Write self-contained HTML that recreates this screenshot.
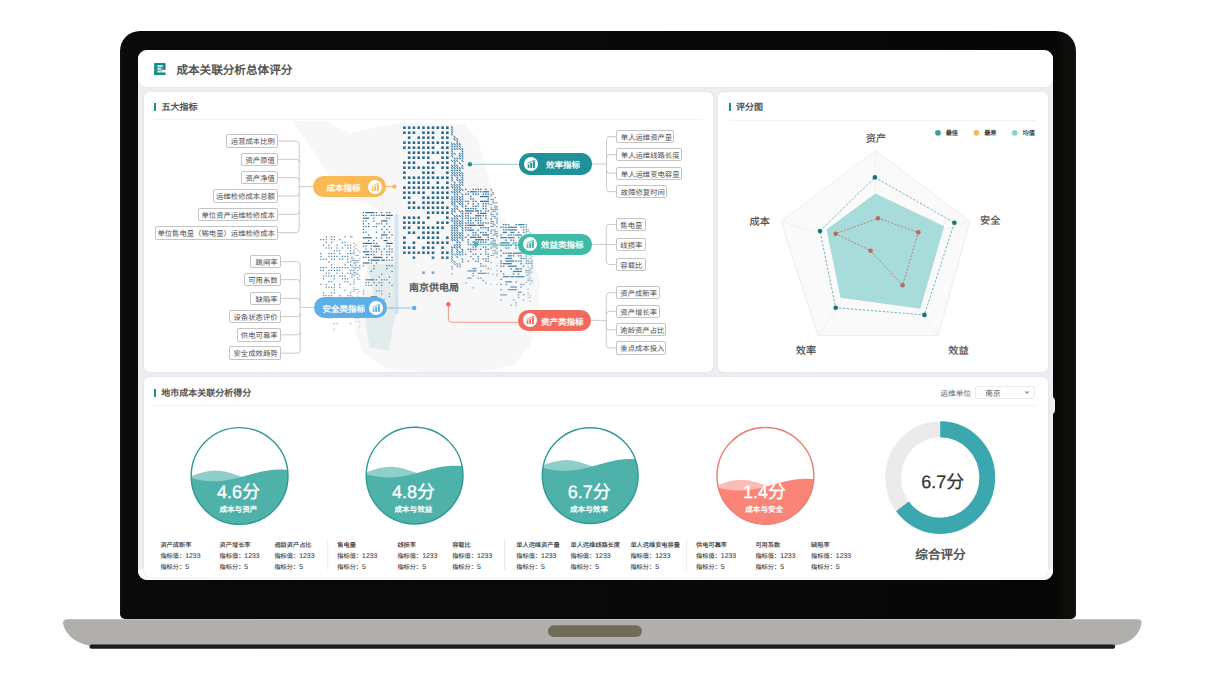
<!DOCTYPE html>
<html lang="zh-CN"><head><meta charset="utf-8"><title>成本关联分析总体评分</title>
<style>
html,body{margin:0;padding:0;}
body{width:1215px;height:674px;position:relative;overflow:hidden;background:#fff;font-family:"Liberation Sans", sans-serif;text-rendering:geometricPrecision;}
.a{position:absolute;}
.t{position:absolute;white-space:nowrap;}
.box{position:absolute;box-sizing:border-box;border:0.8px solid #c4c4c4;border-radius:2px;background:#fff;font-size:7.35px;color:#4d4d4d;white-space:nowrap;}
.bl{text-align:right;padding-right:2.0px;}
.br{text-align:left;padding-left:3.6px;}
</style></head><body>
<svg class="a" style="left:0;top:0" width="1215" height="674" viewBox="0 0 1215 674">
<defs><filter id="bb" x="-5%" y="-50%" width="110%" height="200%"><feGaussianBlur stdDeviation="0.55"/></filter></defs><path d="M67 619.3 H1137 Q1141.6 619.3 1141.6 622.5 C1140.6 633 1132 643 1115 645.5 H89 C74 643 64.5 633 63 623 Q63 619.8 67 619.3 Z" fill="#b0afab" filter="url(#bb)"/>
<rect x="89.4" y="644.6" width="1025.8" height="4.2" rx="2.1" fill="#1c1c1c"/>
<rect x="548" y="625.3" width="94" height="11.8" rx="5.9" fill="#716c58"/>
</svg>
<div class="a" style="left:120.3px;top:30.9px;width:955.5px;height:588px;background:linear-gradient(90deg,#141414 0px,#0a0a0a 2.5px,#090909 50%,#060606 calc(100% - 23px),#0d0d0b calc(100% - 13px),#0d0d0b calc(100% - 2px),#161616 100%);border-radius:20px 20px 5px 5px"></div>
<div class="a" style="left:1050px;top:396px;width:5px;height:19px;background:#f4f4f6;border-radius:0 10px 10px 0"></div>
<div class="a" style="left:138px;top:50px;width:915px;height:529.5px;background:#eceef2;border-radius:9px;overflow:hidden">
<div class="a" style="left:0;top:519px;width:915px;height:11px;background:#fdfdfd"></div>
</div>
<div class="a" style="left:138px;top:50px;width:914.5px;height:37px;background:#fff;border-radius:9px 9px 8px 8px;box-shadow:0 0 1.2px rgba(110,115,135,0.3)"></div>
<div class="a" style="left:144px;top:92px;width:569px;height:280px;background:#fff;border-radius:5px;box-shadow:0 0 1.2px rgba(110,115,135,0.35)"></div>
<div class="a" style="left:718px;top:92px;width:329.5px;height:280px;background:#fff;border-radius:5px;box-shadow:0 0 1.2px rgba(110,115,135,0.35)"></div>
<div class="a" style="left:144px;top:377px;width:903.5px;height:200px;background:#fff;border-radius:5px;box-shadow:0 0 1.2px rgba(110,115,135,0.35)"></div>
<svg class="a" style="left:154.2px;top:63px" width="12" height="12" viewBox="0 0 12 12">
<path d="M0 1 Q0 0 1 0 H10.7 Q11.6 0 11.6 1 V6.8 H7.4 V9.6 H11.6 V11.9 H1 Q0 11.9 0 10.9 Z" fill="#1d8a84"/>
<rect x="3.4" y="2.2" width="5.3" height="2.0" fill="#bff5ef"/>
<rect x="3.4" y="4.8" width="4.0" height="2.0" fill="#cde8e6"/>
<rect x="3.4" y="7.5" width="3.8" height="2.0" fill="#bff5ef"/>
<circle cx="-0.2" cy="2.5" r="0.75" fill="#fff"/><circle cx="-0.2" cy="7.1" r="0.75" fill="#fff"/>
</svg>
<div class="t" style="left:176.4px;top:63.6px;font-size:11.6px;line-height:13.92px;color:#555;font-weight:bold;">成本关联分析总体评分</div>
<div class="a" style="left:154.2px;top:103.2px;width:2.0px;height:8.0px;background:#1f8f8a;"></div>
<div class="t" style="left:161.6px;top:102.0px;font-size:9.0px;line-height:10.80px;color:#555;font-weight:bold;">五大指标</div>
<div class="a" style="left:728.6px;top:103.2px;width:2.0px;height:8.0px;background:#1f8f8a;"></div>
<div class="t" style="left:736.0px;top:102.0px;font-size:9.0px;line-height:10.80px;color:#555;font-weight:bold;">评分图</div>
<div class="a" style="left:153.8px;top:389.1px;width:2.0px;height:8.0px;background:#1f8f8a;"></div>
<div class="t" style="left:161.2px;top:387.9px;font-size:9.0px;line-height:10.80px;color:#555;font-weight:bold;">地市成本关联分析得分</div>
<div class="a" style="left:154px;top:119px;width:549px;height:1px;background:#f1f2f4;"></div>
<div class="a" style="left:728.6px;top:119.5px;width:308.4px;height:1.0px;background:#f1f2f4;"></div>
<div class="a" style="left:154px;top:405px;width:883px;height:1px;background:#f1f2f4;"></div>
<svg class="a" style="left:0;top:0" width="1215" height="674" viewBox="0 0 1215 674"><polygon points="293,121 325,121 350,133 380,126 402,123 464,124 478,140 488,175 495,205 510,230 530,250 540,280 538,320 530,345 515,365 480,372 420,372 385,368 362,352 355,330 362,300 365,270 372,250 380,235 385,215 370,205 350,200 335,185 322,165 310,145 298,130" fill="#f7f7f7"/><polygon points="367.5,265.5 396.6,262.5 398.6,304.4 392.7,327.7 388.9,351 369.4,347.2 365.5,320 373.3,292.7" fill="#e3ecec"/><rect x="403.10" y="126.40" width="2.6" height="2.6" fill="#2d6a90" opacity="1.00"/><rect x="407.87" y="126.40" width="2.6" height="2.6" fill="#2d6a90" opacity="1.00"/><rect x="412.64" y="126.40" width="2.6" height="2.6" fill="#2d6a90" opacity="1.00"/><rect x="417.41" y="126.40" width="2.6" height="2.6" fill="#2d6a90" opacity="1.00"/><rect x="422.18" y="126.40" width="2.6" height="2.6" fill="#2d6a90" opacity="1.00"/><rect x="426.95" y="126.40" width="2.6" height="2.6" fill="#2d6a90" opacity="1.00"/><rect x="431.72" y="126.40" width="2.6" height="2.6" fill="#2d6a90" opacity="1.00"/><rect x="436.49" y="126.40" width="2.6" height="2.6" fill="#2d6a90" opacity="1.00"/><rect x="441.26" y="126.40" width="2.6" height="2.6" fill="#2d6a90" opacity="1.00"/><rect x="446.03" y="126.40" width="2.6" height="2.6" fill="#2d6a90" opacity="1.00"/><rect x="403.10" y="131.40" width="2.6" height="2.6" fill="#2d6a90" opacity="1.00"/><rect x="407.87" y="131.40" width="2.6" height="2.6" fill="#2d6a90" opacity="1.00"/><rect x="412.64" y="131.40" width="2.6" height="2.6" fill="#2d6a90" opacity="1.00"/><rect x="422.18" y="131.40" width="2.6" height="2.6" fill="#2d6a90" opacity="1.00"/><rect x="426.95" y="131.40" width="2.6" height="2.6" fill="#2d6a90" opacity="1.00"/><rect x="431.72" y="131.40" width="2.6" height="2.6" fill="#2d6a90" opacity="1.00"/><rect x="441.26" y="131.40" width="2.6" height="2.6" fill="#2d6a90" opacity="1.00"/><rect x="446.03" y="131.40" width="2.6" height="2.6" fill="#2d6a90" opacity="1.00"/><rect x="407.87" y="136.40" width="2.6" height="2.6" fill="#2d6a90" opacity="1.00"/><rect x="417.41" y="136.40" width="2.6" height="2.6" fill="#2d6a90" opacity="1.00"/><rect x="422.18" y="136.40" width="2.6" height="2.6" fill="#2d6a90" opacity="1.00"/><rect x="426.95" y="136.40" width="2.6" height="2.6" fill="#2d6a90" opacity="1.00"/><rect x="431.72" y="136.40" width="2.6" height="2.6" fill="#2d6a90" opacity="1.00"/><rect x="441.26" y="136.40" width="2.6" height="2.6" fill="#2d6a90" opacity="1.00"/><rect x="446.03" y="136.40" width="2.6" height="2.6" fill="#2d6a90" opacity="1.00"/><rect x="403.10" y="141.40" width="2.6" height="2.6" fill="#2d6a90" opacity="1.00"/><rect x="407.87" y="141.40" width="2.6" height="2.6" fill="#2d6a90" opacity="1.00"/><rect x="412.64" y="141.40" width="2.6" height="2.6" fill="#2d6a90" opacity="1.00"/><rect x="417.41" y="141.40" width="2.6" height="2.6" fill="#2d6a90" opacity="1.00"/><rect x="422.18" y="141.40" width="2.6" height="2.6" fill="#2d6a90" opacity="1.00"/><rect x="426.95" y="141.40" width="2.6" height="2.6" fill="#2d6a90" opacity="1.00"/><rect x="431.72" y="141.40" width="2.6" height="2.6" fill="#2d6a90" opacity="1.00"/><rect x="436.49" y="141.40" width="2.6" height="2.6" fill="#2d6a90" opacity="1.00"/><rect x="441.26" y="141.40" width="2.6" height="2.6" fill="#2d6a90" opacity="1.00"/><rect x="446.03" y="141.40" width="2.6" height="2.6" fill="#2d6a90" opacity="1.00"/><rect x="403.10" y="146.40" width="2.6" height="2.6" fill="#2d6a90" opacity="1.00"/><rect x="407.87" y="146.40" width="2.6" height="2.6" fill="#2d6a90" opacity="1.00"/><rect x="412.64" y="146.40" width="2.6" height="2.6" fill="#2d6a90" opacity="1.00"/><rect x="417.41" y="146.40" width="2.6" height="2.6" fill="#2d6a90" opacity="1.00"/><rect x="422.18" y="146.40" width="2.6" height="2.6" fill="#2d6a90" opacity="1.00"/><rect x="426.95" y="146.40" width="2.6" height="2.6" fill="#2d6a90" opacity="1.00"/><rect x="431.72" y="146.40" width="2.6" height="2.6" fill="#2d6a90" opacity="1.00"/><rect x="441.26" y="146.40" width="2.6" height="2.6" fill="#2d6a90" opacity="1.00"/><rect x="446.03" y="146.40" width="2.6" height="2.6" fill="#2d6a90" opacity="1.00"/><rect x="407.87" y="151.40" width="2.6" height="2.6" fill="#2d6a90" opacity="1.00"/><rect x="412.64" y="151.40" width="2.6" height="2.6" fill="#2d6a90" opacity="1.00"/><rect x="417.41" y="151.40" width="2.6" height="2.6" fill="#2d6a90" opacity="1.00"/><rect x="422.18" y="151.40" width="2.6" height="2.6" fill="#2d6a90" opacity="1.00"/><rect x="426.95" y="151.40" width="2.6" height="2.6" fill="#2d6a90" opacity="1.00"/><rect x="431.72" y="151.40" width="2.6" height="2.6" fill="#2d6a90" opacity="1.00"/><rect x="436.49" y="151.40" width="2.6" height="2.6" fill="#2d6a90" opacity="1.00"/><rect x="441.26" y="151.40" width="2.6" height="2.6" fill="#2d6a90" opacity="1.00"/><rect x="446.03" y="151.40" width="2.6" height="2.6" fill="#2d6a90" opacity="1.00"/><rect x="407.87" y="156.40" width="2.6" height="2.6" fill="#2d6a90" opacity="1.00"/><rect x="412.64" y="156.40" width="2.6" height="2.6" fill="#2d6a90" opacity="1.00"/><rect x="417.41" y="156.40" width="2.6" height="2.6" fill="#2d6a90" opacity="1.00"/><rect x="422.18" y="156.40" width="2.6" height="2.6" fill="#2d6a90" opacity="1.00"/><rect x="426.95" y="156.40" width="2.6" height="2.6" fill="#2d6a90" opacity="1.00"/><rect x="441.26" y="156.40" width="2.6" height="2.6" fill="#2d6a90" opacity="1.00"/><rect x="446.03" y="156.40" width="2.6" height="2.6" fill="#2d6a90" opacity="1.00"/><rect x="403.10" y="161.40" width="2.6" height="2.6" fill="#2d6a90" opacity="1.00"/><rect x="407.87" y="161.40" width="2.6" height="2.6" fill="#2d6a90" opacity="1.00"/><rect x="412.64" y="161.40" width="2.6" height="2.6" fill="#2d6a90" opacity="1.00"/><rect x="426.95" y="161.40" width="2.6" height="2.6" fill="#2d6a90" opacity="1.00"/><rect x="431.72" y="161.40" width="2.6" height="2.6" fill="#2d6a90" opacity="1.00"/><rect x="436.49" y="161.40" width="2.6" height="2.6" fill="#2d6a90" opacity="1.00"/><rect x="441.26" y="161.40" width="2.6" height="2.6" fill="#2d6a90" opacity="1.00"/><rect x="446.03" y="161.40" width="2.6" height="2.6" fill="#2d6a90" opacity="1.00"/><rect x="403.10" y="166.40" width="2.6" height="2.6" fill="#2d6a90" opacity="1.00"/><rect x="407.87" y="166.40" width="2.6" height="2.6" fill="#2d6a90" opacity="1.00"/><rect x="412.64" y="166.40" width="2.6" height="2.6" fill="#2d6a90" opacity="1.00"/><rect x="417.41" y="166.40" width="2.6" height="2.6" fill="#2d6a90" opacity="1.00"/><rect x="422.18" y="166.40" width="2.6" height="2.6" fill="#2d6a90" opacity="1.00"/><rect x="426.95" y="166.40" width="2.6" height="2.6" fill="#2d6a90" opacity="1.00"/><rect x="431.72" y="166.40" width="2.6" height="2.6" fill="#2d6a90" opacity="1.00"/><rect x="441.26" y="166.40" width="2.6" height="2.6" fill="#2d6a90" opacity="1.00"/><rect x="446.03" y="166.40" width="2.6" height="2.6" fill="#2d6a90" opacity="1.00"/><rect x="403.10" y="171.40" width="2.6" height="2.6" fill="#2d6a90" opacity="1.00"/><rect x="422.18" y="171.40" width="2.6" height="2.6" fill="#2d6a90" opacity="1.00"/><rect x="426.95" y="171.40" width="2.6" height="2.6" fill="#2d6a90" opacity="1.00"/><rect x="431.72" y="171.40" width="2.6" height="2.6" fill="#2d6a90" opacity="1.00"/><rect x="446.03" y="171.40" width="2.6" height="2.6" fill="#2d6a90" opacity="1.00"/><rect x="403.10" y="176.40" width="2.6" height="2.6" fill="#2d6a90" opacity="1.00"/><rect x="407.87" y="176.40" width="2.6" height="2.6" fill="#2d6a90" opacity="1.00"/><rect x="412.64" y="176.40" width="2.6" height="2.6" fill="#2d6a90" opacity="1.00"/><rect x="417.41" y="176.40" width="2.6" height="2.6" fill="#2d6a90" opacity="1.00"/><rect x="422.18" y="176.40" width="2.6" height="2.6" fill="#2d6a90" opacity="1.00"/><rect x="426.95" y="176.40" width="2.6" height="2.6" fill="#2d6a90" opacity="1.00"/><rect x="431.72" y="176.40" width="2.6" height="2.6" fill="#2d6a90" opacity="1.00"/><rect x="436.49" y="176.40" width="2.6" height="2.6" fill="#2d6a90" opacity="1.00"/><rect x="441.26" y="176.40" width="2.6" height="2.6" fill="#2d6a90" opacity="1.00"/><rect x="446.03" y="176.40" width="2.6" height="2.6" fill="#2d6a90" opacity="1.00"/><rect x="407.87" y="181.40" width="2.6" height="2.6" fill="#2d6a90" opacity="1.00"/><rect x="412.64" y="181.40" width="2.6" height="2.6" fill="#2d6a90" opacity="1.00"/><rect x="417.41" y="181.40" width="2.6" height="2.6" fill="#2d6a90" opacity="1.00"/><rect x="422.18" y="181.40" width="2.6" height="2.6" fill="#2d6a90" opacity="1.00"/><rect x="426.95" y="181.40" width="2.6" height="2.6" fill="#2d6a90" opacity="1.00"/><rect x="436.49" y="181.40" width="2.6" height="2.6" fill="#2d6a90" opacity="1.00"/><rect x="446.03" y="181.40" width="2.6" height="2.6" fill="#2d6a90" opacity="1.00"/><rect x="403.10" y="186.40" width="2.6" height="2.6" fill="#2d6a90" opacity="1.00"/><rect x="407.87" y="186.40" width="2.6" height="2.6" fill="#2d6a90" opacity="1.00"/><rect x="412.64" y="186.40" width="2.6" height="2.6" fill="#2d6a90" opacity="1.00"/><rect x="417.41" y="186.40" width="2.6" height="2.6" fill="#2d6a90" opacity="1.00"/><rect x="422.18" y="186.40" width="2.6" height="2.6" fill="#2d6a90" opacity="1.00"/><rect x="426.95" y="186.40" width="2.6" height="2.6" fill="#2d6a90" opacity="1.00"/><rect x="431.72" y="186.40" width="2.6" height="2.6" fill="#2d6a90" opacity="1.00"/><rect x="436.49" y="186.40" width="2.6" height="2.6" fill="#2d6a90" opacity="1.00"/><rect x="441.26" y="186.40" width="2.6" height="2.6" fill="#2d6a90" opacity="1.00"/><rect x="446.03" y="186.40" width="2.6" height="2.6" fill="#2d6a90" opacity="1.00"/><rect x="403.10" y="191.40" width="2.6" height="2.6" fill="#2d6a90" opacity="1.00"/><rect x="407.87" y="191.40" width="2.6" height="2.6" fill="#2d6a90" opacity="1.00"/><rect x="412.64" y="191.40" width="2.6" height="2.6" fill="#2d6a90" opacity="1.00"/><rect x="417.41" y="191.40" width="2.6" height="2.6" fill="#2d6a90" opacity="1.00"/><rect x="422.18" y="191.40" width="2.6" height="2.6" fill="#2d6a90" opacity="1.00"/><rect x="431.72" y="191.40" width="2.6" height="2.6" fill="#2d6a90" opacity="1.00"/><rect x="436.49" y="191.40" width="2.6" height="2.6" fill="#2d6a90" opacity="1.00"/><rect x="441.26" y="191.40" width="2.6" height="2.6" fill="#2d6a90" opacity="1.00"/><rect x="446.03" y="191.40" width="2.6" height="2.6" fill="#2d6a90" opacity="1.00"/><rect x="403.10" y="196.40" width="2.6" height="2.6" fill="#2d6a90" opacity="1.00"/><rect x="407.87" y="196.40" width="2.6" height="2.6" fill="#2d6a90" opacity="1.00"/><rect x="422.18" y="196.40" width="2.6" height="2.6" fill="#2d6a90" opacity="1.00"/><rect x="426.95" y="196.40" width="2.6" height="2.6" fill="#2d6a90" opacity="1.00"/><rect x="431.72" y="196.40" width="2.6" height="2.6" fill="#2d6a90" opacity="1.00"/><rect x="436.49" y="196.40" width="2.6" height="2.6" fill="#2d6a90" opacity="1.00"/><rect x="441.26" y="196.40" width="2.6" height="2.6" fill="#2d6a90" opacity="1.00"/><rect x="446.03" y="196.40" width="2.6" height="2.6" fill="#2d6a90" opacity="1.00"/><rect x="407.87" y="201.40" width="2.6" height="2.6" fill="#2d6a90" opacity="1.00"/><rect x="412.64" y="201.40" width="2.6" height="2.6" fill="#2d6a90" opacity="1.00"/><rect x="422.18" y="201.40" width="2.6" height="2.6" fill="#2d6a90" opacity="1.00"/><rect x="426.95" y="201.40" width="2.6" height="2.6" fill="#2d6a90" opacity="1.00"/><rect x="431.72" y="201.40" width="2.6" height="2.6" fill="#2d6a90" opacity="1.00"/><rect x="436.49" y="201.40" width="2.6" height="2.6" fill="#2d6a90" opacity="1.00"/><rect x="441.26" y="201.40" width="2.6" height="2.6" fill="#2d6a90" opacity="1.00"/><rect x="407.87" y="206.40" width="2.6" height="2.6" fill="#2d6a90" opacity="1.00"/><rect x="412.64" y="206.40" width="2.6" height="2.6" fill="#2d6a90" opacity="1.00"/><rect x="417.41" y="206.40" width="2.6" height="2.6" fill="#2d6a90" opacity="1.00"/><rect x="422.18" y="206.40" width="2.6" height="2.6" fill="#2d6a90" opacity="1.00"/><rect x="426.95" y="206.40" width="2.6" height="2.6" fill="#2d6a90" opacity="1.00"/><rect x="431.72" y="206.40" width="2.6" height="2.6" fill="#2d6a90" opacity="1.00"/><rect x="436.49" y="206.40" width="2.6" height="2.6" fill="#2d6a90" opacity="1.00"/><rect x="441.26" y="206.40" width="2.6" height="2.6" fill="#2d6a90" opacity="1.00"/><rect x="446.03" y="206.40" width="2.6" height="2.6" fill="#2d6a90" opacity="1.00"/><rect x="426.95" y="211.40" width="2.6" height="2.6" fill="#2d6a90" opacity="1.00"/><rect x="431.72" y="211.40" width="2.6" height="2.6" fill="#2d6a90" opacity="1.00"/><rect x="436.49" y="211.40" width="2.6" height="2.6" fill="#2d6a90" opacity="1.00"/><rect x="441.26" y="211.40" width="2.6" height="2.6" fill="#2d6a90" opacity="1.00"/><rect x="446.03" y="211.40" width="2.6" height="2.6" fill="#2d6a90" opacity="1.00"/><rect x="403.10" y="216.40" width="2.6" height="2.6" fill="#2d6a90" opacity="1.00"/><rect x="407.87" y="216.40" width="2.6" height="2.6" fill="#2d6a90" opacity="1.00"/><rect x="412.64" y="216.40" width="2.6" height="2.6" fill="#2d6a90" opacity="1.00"/><rect x="417.41" y="216.40" width="2.6" height="2.6" fill="#2d6a90" opacity="1.00"/><rect x="426.95" y="216.40" width="2.6" height="2.6" fill="#2d6a90" opacity="1.00"/><rect x="446.03" y="216.40" width="2.6" height="2.6" fill="#2d6a90" opacity="1.00"/><rect x="403.10" y="221.40" width="2.6" height="2.6" fill="#2d6a90" opacity="1.00"/><rect x="407.87" y="221.40" width="2.6" height="2.6" fill="#2d6a90" opacity="1.00"/><rect x="412.64" y="221.40" width="2.6" height="2.6" fill="#2d6a90" opacity="1.00"/><rect x="417.41" y="221.40" width="2.6" height="2.6" fill="#2d6a90" opacity="1.00"/><rect x="422.18" y="221.40" width="2.6" height="2.6" fill="#2d6a90" opacity="1.00"/><rect x="436.49" y="221.40" width="2.6" height="2.6" fill="#2d6a90" opacity="1.00"/><rect x="441.26" y="221.40" width="2.6" height="2.6" fill="#2d6a90" opacity="1.00"/><rect x="446.03" y="221.40" width="2.6" height="2.6" fill="#2d6a90" opacity="1.00"/><rect x="403.10" y="226.40" width="2.6" height="2.6" fill="#2d6a90" opacity="1.00"/><rect x="407.87" y="226.40" width="2.6" height="2.6" fill="#2d6a90" opacity="1.00"/><rect x="417.41" y="226.40" width="2.6" height="2.6" fill="#2d6a90" opacity="1.00"/><rect x="422.18" y="226.40" width="2.6" height="2.6" fill="#2d6a90" opacity="1.00"/><rect x="426.95" y="226.40" width="2.6" height="2.6" fill="#2d6a90" opacity="1.00"/><rect x="431.72" y="226.40" width="2.6" height="2.6" fill="#2d6a90" opacity="1.00"/><rect x="436.49" y="226.40" width="2.6" height="2.6" fill="#2d6a90" opacity="1.00"/><rect x="441.26" y="226.40" width="2.6" height="2.6" fill="#2d6a90" opacity="1.00"/><rect x="407.87" y="231.40" width="2.6" height="2.6" fill="#2d6a90" opacity="1.00"/><rect x="412.64" y="231.40" width="2.6" height="2.6" fill="#2d6a90" opacity="1.00"/><rect x="422.18" y="231.40" width="2.6" height="2.6" fill="#2d6a90" opacity="1.00"/><rect x="426.95" y="231.40" width="2.6" height="2.6" fill="#2d6a90" opacity="1.00"/><rect x="431.72" y="231.40" width="2.6" height="2.6" fill="#2d6a90" opacity="1.00"/><rect x="436.49" y="231.40" width="2.6" height="2.6" fill="#2d6a90" opacity="1.00"/><rect x="403.10" y="236.40" width="2.6" height="2.6" fill="#2d6a90" opacity="1.00"/><rect x="417.41" y="236.40" width="2.6" height="2.6" fill="#2d6a90" opacity="1.00"/><rect x="422.18" y="236.40" width="2.6" height="2.6" fill="#2d6a90" opacity="1.00"/><rect x="426.95" y="236.40" width="2.6" height="2.6" fill="#2d6a90" opacity="1.00"/><rect x="431.72" y="236.40" width="2.6" height="2.6" fill="#2d6a90" opacity="1.00"/><rect x="436.49" y="236.40" width="2.6" height="2.6" fill="#2d6a90" opacity="1.00"/><rect x="446.03" y="236.40" width="2.6" height="2.6" fill="#2d6a90" opacity="1.00"/><rect x="403.10" y="241.40" width="2.6" height="2.6" fill="#2d6a90" opacity="1.00"/><rect x="412.64" y="241.40" width="2.6" height="2.6" fill="#2d6a90" opacity="1.00"/><rect x="426.95" y="241.40" width="2.6" height="2.6" fill="#2d6a90" opacity="1.00"/><rect x="431.72" y="241.40" width="2.6" height="2.6" fill="#2d6a90" opacity="1.00"/><rect x="436.49" y="241.40" width="2.6" height="2.6" fill="#2d6a90" opacity="1.00"/><rect x="441.26" y="241.40" width="2.6" height="2.6" fill="#2d6a90" opacity="1.00"/><rect x="446.03" y="241.40" width="2.6" height="2.6" fill="#2d6a90" opacity="1.00"/><rect x="403.10" y="246.40" width="2.6" height="2.6" fill="#2d6a90" opacity="1.00"/><rect x="407.87" y="246.40" width="2.6" height="2.6" fill="#2d6a90" opacity="1.00"/><rect x="412.64" y="246.40" width="2.6" height="2.6" fill="#2d6a90" opacity="1.00"/><rect x="422.18" y="246.40" width="2.6" height="2.6" fill="#2d6a90" opacity="1.00"/><rect x="426.95" y="246.40" width="2.6" height="2.6" fill="#2d6a90" opacity="1.00"/><rect x="431.72" y="246.40" width="2.6" height="2.6" fill="#2d6a90" opacity="1.00"/><rect x="441.26" y="246.40" width="2.6" height="2.6" fill="#2d6a90" opacity="1.00"/><rect x="403.10" y="251.40" width="2.6" height="2.6" fill="#2d6a90" opacity="0.97"/><rect x="407.87" y="251.40" width="2.6" height="2.6" fill="#2d6a90" opacity="0.97"/><rect x="412.64" y="251.40" width="2.6" height="2.6" fill="#2d6a90" opacity="0.97"/><rect x="417.41" y="251.40" width="2.6" height="2.6" fill="#2d6a90" opacity="0.97"/><rect x="422.18" y="251.40" width="2.6" height="2.6" fill="#2d6a90" opacity="0.97"/><rect x="426.95" y="251.40" width="2.6" height="2.6" fill="#2d6a90" opacity="0.97"/><rect x="431.72" y="251.40" width="2.6" height="2.6" fill="#2d6a90" opacity="0.97"/><rect x="441.26" y="251.40" width="2.6" height="2.6" fill="#2d6a90" opacity="0.97"/><rect x="446.03" y="251.40" width="2.6" height="2.6" fill="#2d6a90" opacity="0.97"/><rect x="412.64" y="256.40" width="2.6" height="2.6" fill="#2d6a90" opacity="0.88"/><rect x="431.72" y="256.40" width="2.6" height="2.6" fill="#2d6a90" opacity="0.88"/><rect x="441.26" y="256.40" width="2.6" height="2.6" fill="#2d6a90" opacity="0.88"/><rect x="446.03" y="256.40" width="2.6" height="2.6" fill="#2d6a90" opacity="0.88"/><rect x="422.18" y="271.40" width="2.6" height="2.6" fill="#2d6a90" opacity="0.59"/><rect x="431.72" y="271.40" width="2.6" height="2.6" fill="#2d6a90" opacity="0.59"/><path d="M451.20 126.40 l1.70 1.87" stroke="#3574a0" stroke-width="1.1" opacity="0.95"/><path d="M451.20 128.80 l1.70 1.87" stroke="#3574a0" stroke-width="1.1" opacity="0.95"/><path d="M451.20 131.20 l1.70 1.87" stroke="#3574a0" stroke-width="1.1" opacity="0.95"/><path d="M451.20 133.60 l1.70 1.87" stroke="#3574a0" stroke-width="1.1" opacity="0.95"/><path d="M453.80 136.00 l1.70 1.87" stroke="#3574a0" stroke-width="1.1" opacity="0.95"/><path d="M453.80 138.40 l1.70 1.87" stroke="#3574a0" stroke-width="1.1" opacity="0.95"/><path d="M456.40 138.40 l1.70 1.87" stroke="#3574a0" stroke-width="1.1" opacity="0.95"/><path d="M456.40 140.80 l1.70 1.87" stroke="#3574a0" stroke-width="1.1" opacity="0.95"/><path d="M451.20 143.20 l1.70 1.87" stroke="#3574a0" stroke-width="1.1" opacity="0.95"/><path d="M453.80 143.20 l1.70 1.87" stroke="#3574a0" stroke-width="1.1" opacity="0.95"/><path d="M456.40 143.20 l1.70 1.87" stroke="#3574a0" stroke-width="1.1" opacity="0.95"/><path d="M459.00 143.20 l1.70 1.87" stroke="#3574a0" stroke-width="1.1" opacity="0.95"/><path d="M451.20 145.60 l1.70 1.87" stroke="#3574a0" stroke-width="1.1" opacity="0.95"/><path d="M453.80 145.60 l1.70 1.87" stroke="#3574a0" stroke-width="1.1" opacity="0.95"/><path d="M456.40 145.60 l1.70 1.87" stroke="#3574a0" stroke-width="1.1" opacity="0.95"/><path d="M459.00 145.60 l1.70 1.87" stroke="#3574a0" stroke-width="1.1" opacity="0.95"/><path d="M451.20 148.00 l1.70 1.87" stroke="#3574a0" stroke-width="1.1" opacity="0.95"/><path d="M453.80 148.00 l1.70 1.87" stroke="#3574a0" stroke-width="1.1" opacity="0.95"/><path d="M456.40 148.00 l1.70 1.87" stroke="#3574a0" stroke-width="1.1" opacity="0.95"/><path d="M459.00 148.00 l1.70 1.87" stroke="#3574a0" stroke-width="1.1" opacity="0.95"/><path d="M461.60 148.00 l1.70 1.87" stroke="#3574a0" stroke-width="1.1" opacity="0.95"/><path d="M451.20 150.40 l1.70 1.87" stroke="#3574a0" stroke-width="1.1" opacity="0.95"/><path d="M461.60 150.40 l1.70 1.87" stroke="#3574a0" stroke-width="1.1" opacity="0.95"/><path d="M451.20 152.80 l1.70 1.87" stroke="#3574a0" stroke-width="1.1" opacity="0.95"/><path d="M453.80 152.80 l1.70 1.87" stroke="#3574a0" stroke-width="1.1" opacity="0.95"/><path d="M459.00 152.80 l1.70 1.87" stroke="#3574a0" stroke-width="1.1" opacity="0.95"/><path d="M461.60 152.80 l1.70 1.87" stroke="#3574a0" stroke-width="1.1" opacity="0.95"/><path d="M451.20 155.20 l1.70 1.87" stroke="#3574a0" stroke-width="1.1" opacity="0.95"/><path d="M459.00 155.20 l1.70 1.87" stroke="#3574a0" stroke-width="1.1" opacity="0.95"/><path d="M461.60 155.20 l1.70 1.87" stroke="#3574a0" stroke-width="1.1" opacity="0.95"/><path d="M453.80 157.60 l1.70 1.87" stroke="#3574a0" stroke-width="1.1" opacity="0.95"/><path d="M456.40 157.60 l1.70 1.87" stroke="#3574a0" stroke-width="1.1" opacity="0.95"/><path d="M459.00 157.60 l1.70 1.87" stroke="#3574a0" stroke-width="1.1" opacity="0.95"/><path d="M461.60 157.60 l1.70 1.87" stroke="#3574a0" stroke-width="1.1" opacity="0.95"/><path d="M451.20 160.00 l1.70 1.87" stroke="#3574a0" stroke-width="1.1" opacity="0.95"/><path d="M453.80 160.00 l1.70 1.87" stroke="#3574a0" stroke-width="1.1" opacity="0.95"/><path d="M456.40 160.00 l1.70 1.87" stroke="#3574a0" stroke-width="1.1" opacity="0.95"/><path d="M461.60 160.00 l1.70 1.87" stroke="#3574a0" stroke-width="1.1" opacity="0.95"/><path d="M453.80 162.40 l1.70 1.87" stroke="#3574a0" stroke-width="1.1" opacity="0.95"/><path d="M459.00 162.40 l1.70 1.87" stroke="#3574a0" stroke-width="1.1" opacity="0.95"/><path d="M451.20 164.80 l1.70 1.87" stroke="#3574a0" stroke-width="1.1" opacity="0.95"/><path d="M453.80 164.80 l1.70 1.87" stroke="#3574a0" stroke-width="1.1" opacity="0.95"/><path d="M456.40 164.80 l1.70 1.87" stroke="#3574a0" stroke-width="1.1" opacity="0.95"/><path d="M461.60 164.80 l1.70 1.87" stroke="#3574a0" stroke-width="1.1" opacity="0.95"/><path d="M451.20 167.20 l1.70 1.87" stroke="#3574a0" stroke-width="1.1" opacity="0.95"/><path d="M453.80 167.20 l1.70 1.87" stroke="#3574a0" stroke-width="1.1" opacity="0.95"/><path d="M456.40 167.20 l1.70 1.87" stroke="#3574a0" stroke-width="1.1" opacity="0.95"/><path d="M459.00 167.20 l1.70 1.87" stroke="#3574a0" stroke-width="1.1" opacity="0.95"/><path d="M461.60 167.20 l1.70 1.87" stroke="#3574a0" stroke-width="1.1" opacity="0.95"/><path d="M451.20 169.60 l1.70 1.87" stroke="#3574a0" stroke-width="1.1" opacity="0.95"/><path d="M453.80 169.60 l1.70 1.87" stroke="#3574a0" stroke-width="1.1" opacity="0.95"/><path d="M456.40 169.60 l1.70 1.87" stroke="#3574a0" stroke-width="1.1" opacity="0.95"/><path d="M459.00 169.60 l1.70 1.87" stroke="#3574a0" stroke-width="1.1" opacity="0.95"/><path d="M451.20 172.00 l1.70 1.87" stroke="#3574a0" stroke-width="1.1" opacity="0.95"/><path d="M453.80 172.00 l1.70 1.87" stroke="#3574a0" stroke-width="1.1" opacity="0.95"/><path d="M456.40 172.00 l1.70 1.87" stroke="#3574a0" stroke-width="1.1" opacity="0.95"/><path d="M459.00 172.00 l1.70 1.87" stroke="#3574a0" stroke-width="1.1" opacity="0.95"/><path d="M461.60 172.00 l1.70 1.87" stroke="#3574a0" stroke-width="1.1" opacity="0.95"/><path d="M451.20 174.40 l1.70 1.87" stroke="#3574a0" stroke-width="1.1" opacity="0.95"/><path d="M453.80 174.40 l1.70 1.87" stroke="#3574a0" stroke-width="1.1" opacity="0.95"/><path d="M456.40 174.40 l1.70 1.87" stroke="#3574a0" stroke-width="1.1" opacity="0.95"/><path d="M459.00 174.40 l1.70 1.87" stroke="#3574a0" stroke-width="1.1" opacity="0.95"/><path d="M461.60 174.40 l1.70 1.87" stroke="#3574a0" stroke-width="1.1" opacity="0.95"/><path d="M451.20 176.80 l1.70 1.87" stroke="#3574a0" stroke-width="1.1" opacity="0.95"/><path d="M456.40 176.80 l1.70 1.87" stroke="#3574a0" stroke-width="1.1" opacity="0.95"/><path d="M461.60 176.80 l1.70 1.87" stroke="#3574a0" stroke-width="1.1" opacity="0.95"/><path d="M451.20 179.20 l1.70 1.87" stroke="#3574a0" stroke-width="1.1" opacity="0.95"/><path d="M456.40 179.20 l1.70 1.87" stroke="#3574a0" stroke-width="1.1" opacity="0.95"/><path d="M459.00 179.20 l1.70 1.87" stroke="#3574a0" stroke-width="1.1" opacity="0.95"/><path d="M461.60 179.20 l1.70 1.87" stroke="#3574a0" stroke-width="1.1" opacity="0.95"/><path d="M453.80 181.60 l1.70 1.87" stroke="#3574a0" stroke-width="1.1" opacity="0.95"/><path d="M459.00 181.60 l1.70 1.87" stroke="#3574a0" stroke-width="1.1" opacity="0.95"/><path d="M461.60 181.60 l1.70 1.87" stroke="#3574a0" stroke-width="1.1" opacity="0.95"/><path d="M451.20 184.00 l1.70 1.87" stroke="#3574a0" stroke-width="1.1" opacity="0.95"/><path d="M453.80 184.00 l1.70 1.87" stroke="#3574a0" stroke-width="1.1" opacity="0.95"/><path d="M456.40 184.00 l1.70 1.87" stroke="#3574a0" stroke-width="1.1" opacity="0.95"/><path d="M459.00 184.00 l1.70 1.87" stroke="#3574a0" stroke-width="1.1" opacity="0.95"/><path d="M461.60 184.00 l1.70 1.87" stroke="#3574a0" stroke-width="1.1" opacity="0.95"/><path d="M451.20 186.40 l1.70 1.87" stroke="#3574a0" stroke-width="1.1" opacity="0.95"/><path d="M453.80 186.40 l1.70 1.87" stroke="#3574a0" stroke-width="1.1" opacity="0.95"/><path d="M456.40 186.40 l1.70 1.87" stroke="#3574a0" stroke-width="1.1" opacity="0.95"/><path d="M459.00 186.40 l1.70 1.87" stroke="#3574a0" stroke-width="1.1" opacity="0.95"/><path d="M453.80 188.80 l1.70 1.87" stroke="#3574a0" stroke-width="1.1" opacity="0.95"/><path d="M456.40 188.80 l1.70 1.87" stroke="#3574a0" stroke-width="1.1" opacity="0.95"/><path d="M459.00 188.80 l1.70 1.87" stroke="#3574a0" stroke-width="1.1" opacity="0.95"/><path d="M461.60 188.80 l1.70 1.87" stroke="#3574a0" stroke-width="1.1" opacity="0.95"/><path d="M451.20 191.20 l1.70 1.87" stroke="#3574a0" stroke-width="1.1" opacity="0.95"/><path d="M453.80 191.20 l1.70 1.87" stroke="#3574a0" stroke-width="1.1" opacity="0.95"/><path d="M456.40 191.20 l1.70 1.87" stroke="#3574a0" stroke-width="1.1" opacity="0.95"/><path d="M459.00 191.20 l1.70 1.87" stroke="#3574a0" stroke-width="1.1" opacity="0.95"/><path d="M453.80 193.60 l1.70 1.87" stroke="#3574a0" stroke-width="1.1" opacity="0.95"/><path d="M456.40 193.60 l1.70 1.87" stroke="#3574a0" stroke-width="1.1" opacity="0.95"/><path d="M461.60 193.60 l1.70 1.87" stroke="#3574a0" stroke-width="1.1" opacity="0.95"/><path d="M451.20 196.00 l1.70 1.87" stroke="#3574a0" stroke-width="1.1" opacity="0.95"/><path d="M453.80 196.00 l1.70 1.87" stroke="#3574a0" stroke-width="1.1" opacity="0.95"/><path d="M456.40 196.00 l1.70 1.87" stroke="#3574a0" stroke-width="1.1" opacity="0.95"/><path d="M459.00 196.00 l1.70 1.87" stroke="#3574a0" stroke-width="1.1" opacity="0.95"/><path d="M461.60 196.00 l1.70 1.87" stroke="#3574a0" stroke-width="1.1" opacity="0.95"/><path d="M451.20 198.40 l1.70 1.87" stroke="#3574a0" stroke-width="1.1" opacity="0.95"/><path d="M453.80 198.40 l1.70 1.87" stroke="#3574a0" stroke-width="1.1" opacity="0.95"/><path d="M456.40 198.40 l1.70 1.87" stroke="#3574a0" stroke-width="1.1" opacity="0.95"/><path d="M459.00 198.40 l1.70 1.87" stroke="#3574a0" stroke-width="1.1" opacity="0.95"/><path d="M461.60 198.40 l1.70 1.87" stroke="#3574a0" stroke-width="1.1" opacity="0.95"/><path d="M451.20 200.80 l1.70 1.87" stroke="#3574a0" stroke-width="1.1" opacity="0.95"/><path d="M453.80 200.80 l1.70 1.87" stroke="#3574a0" stroke-width="1.1" opacity="0.95"/><path d="M456.40 200.80 l1.70 1.87" stroke="#3574a0" stroke-width="1.1" opacity="0.95"/><path d="M459.00 200.80 l1.70 1.87" stroke="#3574a0" stroke-width="1.1" opacity="0.95"/><path d="M461.60 200.80 l1.70 1.87" stroke="#3574a0" stroke-width="1.1" opacity="0.95"/><path d="M451.20 203.20 l1.70 1.87" stroke="#3574a0" stroke-width="1.1" opacity="0.95"/><path d="M453.80 203.20 l1.70 1.87" stroke="#3574a0" stroke-width="1.1" opacity="0.95"/><path d="M459.00 203.20 l1.70 1.87" stroke="#3574a0" stroke-width="1.1" opacity="0.95"/><path d="M461.60 203.20 l1.70 1.87" stroke="#3574a0" stroke-width="1.1" opacity="0.95"/><path d="M453.80 205.60 l1.70 1.87" stroke="#3574a0" stroke-width="1.1" opacity="0.95"/><path d="M456.40 205.60 l1.70 1.87" stroke="#3574a0" stroke-width="1.1" opacity="0.95"/><path d="M461.60 205.60 l1.70 1.87" stroke="#3574a0" stroke-width="1.1" opacity="0.95"/><path d="M451.20 208.00 l1.70 1.87" stroke="#3574a0" stroke-width="1.1" opacity="0.95"/><path d="M453.80 208.00 l1.70 1.87" stroke="#3574a0" stroke-width="1.1" opacity="0.95"/><path d="M456.40 208.00 l1.70 1.87" stroke="#3574a0" stroke-width="1.1" opacity="0.95"/><path d="M451.20 210.40 l1.70 1.87" stroke="#3574a0" stroke-width="1.1" opacity="0.95"/><path d="M453.80 210.40 l1.70 1.87" stroke="#3574a0" stroke-width="1.1" opacity="0.95"/><path d="M459.00 210.40 l1.70 1.87" stroke="#3574a0" stroke-width="1.1" opacity="0.95"/><path d="M461.60 210.40 l1.70 1.87" stroke="#3574a0" stroke-width="1.1" opacity="0.95"/><path d="M451.20 212.80 l1.70 1.87" stroke="#3574a0" stroke-width="1.1" opacity="0.95"/><path d="M461.60 212.80 l1.70 1.87" stroke="#3574a0" stroke-width="1.1" opacity="0.95"/><path d="M453.80 215.20 l1.70 1.87" stroke="#3574a0" stroke-width="1.1" opacity="0.95"/><path d="M456.40 215.20 l1.70 1.87" stroke="#3574a0" stroke-width="1.1" opacity="0.95"/><path d="M459.00 215.20 l1.70 1.87" stroke="#3574a0" stroke-width="1.1" opacity="0.95"/><path d="M461.60 215.20 l1.70 1.87" stroke="#3574a0" stroke-width="1.1" opacity="0.95"/><path d="M451.20 217.60 l1.70 1.87" stroke="#3574a0" stroke-width="1.1" opacity="0.95"/><path d="M453.80 217.60 l1.70 1.87" stroke="#3574a0" stroke-width="1.1" opacity="0.95"/><path d="M456.40 217.60 l1.70 1.87" stroke="#3574a0" stroke-width="1.1" opacity="0.95"/><path d="M461.60 217.60 l1.70 1.87" stroke="#3574a0" stroke-width="1.1" opacity="0.95"/><path d="M451.20 220.00 l1.70 1.87" stroke="#3574a0" stroke-width="1.1" opacity="0.95"/><path d="M453.80 220.00 l1.70 1.87" stroke="#3574a0" stroke-width="1.1" opacity="0.95"/><path d="M456.40 220.00 l1.70 1.87" stroke="#3574a0" stroke-width="1.1" opacity="0.95"/><path d="M459.00 220.00 l1.70 1.87" stroke="#3574a0" stroke-width="1.1" opacity="0.95"/><path d="M461.60 220.00 l1.70 1.87" stroke="#3574a0" stroke-width="1.1" opacity="0.95"/><path d="M453.80 222.40 l1.70 1.87" stroke="#3574a0" stroke-width="1.1" opacity="0.95"/><path d="M456.40 222.40 l1.70 1.87" stroke="#3574a0" stroke-width="1.1" opacity="0.95"/><path d="M459.00 222.40 l1.70 1.87" stroke="#3574a0" stroke-width="1.1" opacity="0.95"/><path d="M461.60 222.40 l1.70 1.87" stroke="#3574a0" stroke-width="1.1" opacity="0.95"/><path d="M451.20 224.80 l1.70 1.87" stroke="#3574a0" stroke-width="1.1" opacity="0.95"/><path d="M453.80 224.80 l1.70 1.87" stroke="#3574a0" stroke-width="1.1" opacity="0.95"/><path d="M456.40 224.80 l1.70 1.87" stroke="#3574a0" stroke-width="1.1" opacity="0.95"/><path d="M459.00 224.80 l1.70 1.87" stroke="#3574a0" stroke-width="1.1" opacity="0.95"/><path d="M461.60 224.80 l1.70 1.87" stroke="#3574a0" stroke-width="1.1" opacity="0.95"/><path d="M451.20 227.20 l1.70 1.87" stroke="#3574a0" stroke-width="1.1" opacity="0.95"/><path d="M453.80 227.20 l1.70 1.87" stroke="#3574a0" stroke-width="1.1" opacity="0.95"/><path d="M456.40 227.20 l1.70 1.87" stroke="#3574a0" stroke-width="1.1" opacity="0.95"/><path d="M461.60 227.20 l1.70 1.87" stroke="#3574a0" stroke-width="1.1" opacity="0.95"/><path d="M451.20 229.60 l1.70 1.87" stroke="#3574a0" stroke-width="1.1" opacity="0.95"/><path d="M453.80 229.60 l1.70 1.87" stroke="#3574a0" stroke-width="1.1" opacity="0.95"/><path d="M456.40 229.60 l1.70 1.87" stroke="#3574a0" stroke-width="1.1" opacity="0.95"/><path d="M461.60 229.60 l1.70 1.87" stroke="#3574a0" stroke-width="1.1" opacity="0.95"/><path d="M451.20 232.00 l1.70 1.87" stroke="#3574a0" stroke-width="1.1" opacity="0.95"/><path d="M453.80 232.00 l1.70 1.87" stroke="#3574a0" stroke-width="1.1" opacity="0.95"/><path d="M456.40 232.00 l1.70 1.87" stroke="#3574a0" stroke-width="1.1" opacity="0.95"/><path d="M459.00 232.00 l1.70 1.87" stroke="#3574a0" stroke-width="1.1" opacity="0.95"/><path d="M461.60 232.00 l1.70 1.87" stroke="#3574a0" stroke-width="1.1" opacity="0.95"/><path d="M451.20 234.40 l1.70 1.87" stroke="#3574a0" stroke-width="1.1" opacity="0.95"/><path d="M453.80 234.40 l1.70 1.87" stroke="#3574a0" stroke-width="1.1" opacity="0.95"/><path d="M456.40 234.40 l1.70 1.87" stroke="#3574a0" stroke-width="1.1" opacity="0.95"/><path d="M459.00 234.40 l1.70 1.87" stroke="#3574a0" stroke-width="1.1" opacity="0.95"/><path d="M461.60 234.40 l1.70 1.87" stroke="#3574a0" stroke-width="1.1" opacity="0.95"/><path d="M451.20 236.80 l1.70 1.87" stroke="#3574a0" stroke-width="1.1" opacity="0.95"/><path d="M453.80 236.80 l1.70 1.87" stroke="#3574a0" stroke-width="1.1" opacity="0.95"/><path d="M456.40 236.80 l1.70 1.87" stroke="#3574a0" stroke-width="1.1" opacity="0.95"/><path d="M459.00 236.80 l1.70 1.87" stroke="#3574a0" stroke-width="1.1" opacity="0.95"/><path d="M461.60 236.80 l1.70 1.87" stroke="#3574a0" stroke-width="1.1" opacity="0.95"/><path d="M451.20 239.20 l1.70 1.87" stroke="#3574a0" stroke-width="1.1" opacity="0.95"/><path d="M453.80 239.20 l1.70 1.87" stroke="#3574a0" stroke-width="1.1" opacity="0.95"/><path d="M456.40 239.20 l1.70 1.87" stroke="#3574a0" stroke-width="1.1" opacity="0.95"/><path d="M461.60 239.20 l1.70 1.87" stroke="#3574a0" stroke-width="1.1" opacity="0.95"/><path d="M456.40 241.60 l1.70 1.87" stroke="#3574a0" stroke-width="1.1" opacity="0.95"/><path d="M459.00 241.60 l1.70 1.87" stroke="#3574a0" stroke-width="1.1" opacity="0.95"/><path d="M453.80 244.00 l1.70 1.87" stroke="#3574a0" stroke-width="1.1" opacity="0.95"/><path d="M456.40 244.00 l1.70 1.87" stroke="#3574a0" stroke-width="1.1" opacity="0.95"/><path d="M459.00 244.00 l1.70 1.87" stroke="#3574a0" stroke-width="1.1" opacity="0.95"/><path d="M451.20 246.40 l1.70 1.87" stroke="#3574a0" stroke-width="1.1" opacity="0.95"/><path d="M453.80 246.40 l1.70 1.87" stroke="#3574a0" stroke-width="1.1" opacity="0.95"/><path d="M456.40 246.40 l1.70 1.87" stroke="#3574a0" stroke-width="1.1" opacity="0.95"/><path d="M459.00 246.40 l1.70 1.87" stroke="#3574a0" stroke-width="1.1" opacity="0.95"/><path d="M451.20 248.80 l1.70 1.87" stroke="#3574a0" stroke-width="1.1" opacity="0.95"/><path d="M456.40 248.80 l1.70 1.87" stroke="#3574a0" stroke-width="1.1" opacity="0.95"/><path d="M461.60 248.80 l1.70 1.87" stroke="#3574a0" stroke-width="1.1" opacity="0.95"/><path d="M451.20 251.20 l1.70 1.87" stroke="#3574a0" stroke-width="1.1" opacity="0.88"/><path d="M456.40 251.20 l1.70 1.87" stroke="#3574a0" stroke-width="1.1" opacity="0.88"/><path d="M459.00 251.20 l1.70 1.87" stroke="#3574a0" stroke-width="1.1" opacity="0.88"/><path d="M461.60 251.20 l1.70 1.87" stroke="#3574a0" stroke-width="1.1" opacity="0.88"/><path d="M451.20 253.60 l1.70 1.87" stroke="#3574a0" stroke-width="1.1" opacity="0.83"/><path d="M453.80 253.60 l1.70 1.87" stroke="#3574a0" stroke-width="1.1" opacity="0.83"/><path d="M456.40 253.60 l1.70 1.87" stroke="#3574a0" stroke-width="1.1" opacity="0.83"/><path d="M459.00 253.60 l1.70 1.87" stroke="#3574a0" stroke-width="1.1" opacity="0.83"/><path d="M461.60 253.60 l1.70 1.87" stroke="#3574a0" stroke-width="1.1" opacity="0.83"/><path d="M451.20 256.00 l1.70 1.87" stroke="#3574a0" stroke-width="1.1" opacity="0.78"/><path d="M456.40 256.00 l1.70 1.87" stroke="#3574a0" stroke-width="1.1" opacity="0.78"/><path d="M451.20 258.40 l1.70 1.87" stroke="#3574a0" stroke-width="1.1" opacity="0.74"/><path d="M461.60 258.40 l1.70 1.87" stroke="#3574a0" stroke-width="1.1" opacity="0.74"/><path d="M451.20 260.80 l1.70 1.87" stroke="#3574a0" stroke-width="1.1" opacity="0.69"/><path d="M453.80 260.80 l1.70 1.87" stroke="#3574a0" stroke-width="1.1" opacity="0.69"/><path d="M461.60 260.80 l1.70 1.87" stroke="#3574a0" stroke-width="1.1" opacity="0.69"/><path d="M453.80 263.20 l1.70 1.87" stroke="#3574a0" stroke-width="1.1" opacity="0.65"/><path d="M456.40 263.20 l1.70 1.87" stroke="#3574a0" stroke-width="1.1" opacity="0.65"/><path d="M459.00 263.20 l1.70 1.87" stroke="#3574a0" stroke-width="1.1" opacity="0.65"/><path d="M451.20 265.60 l1.70 1.87" stroke="#3574a0" stroke-width="1.1" opacity="0.60"/><path d="M456.40 265.60 l1.70 1.87" stroke="#3574a0" stroke-width="1.1" opacity="0.60"/><path d="M459.00 265.60 l1.70 1.87" stroke="#3574a0" stroke-width="1.1" opacity="0.60"/><path d="M451.20 268.00 l1.70 1.87" stroke="#3574a0" stroke-width="1.1" opacity="0.55"/><path d="M451.20 272.80 l1.70 1.87" stroke="#3574a0" stroke-width="1.1" opacity="0.46"/><rect x="465.00" y="188.70" width="1.5" height="1.3" fill="#3a76a0" opacity="1.00"/><rect x="472.50" y="188.70" width="1.5" height="1.3" fill="#3a76a0" opacity="1.00"/><rect x="475.00" y="188.70" width="1.5" height="1.3" fill="#3a76a0" opacity="1.00"/><rect x="477.50" y="188.70" width="1.5" height="1.3" fill="#3a76a0" opacity="1.00"/><rect x="480.00" y="188.70" width="1.5" height="1.3" fill="#3a76a0" opacity="1.00"/><rect x="485.00" y="188.70" width="1.5" height="1.3" fill="#3a76a0" opacity="1.00"/><rect x="467.50" y="191.10" width="1.5" height="1.3" fill="#3a76a0" opacity="1.00"/><rect x="470.00" y="191.10" width="6.50" height="1.3" fill="#3a76a0" opacity="1.00"/><rect x="477.50" y="191.10" width="1.5" height="1.3" fill="#3a76a0" opacity="1.00"/><rect x="480.00" y="191.10" width="1.5" height="1.3" fill="#3a76a0" opacity="1.00"/><rect x="482.50" y="191.10" width="6.50" height="1.3" fill="#3a76a0" opacity="1.00"/><rect x="465.00" y="193.50" width="1.5" height="1.3" fill="#3a76a0" opacity="1.00"/><rect x="467.50" y="193.50" width="1.5" height="1.3" fill="#3a76a0" opacity="1.00"/><rect x="472.50" y="193.50" width="1.5" height="1.3" fill="#3a76a0" opacity="1.00"/><rect x="475.00" y="193.50" width="1.5" height="1.3" fill="#3a76a0" opacity="1.00"/><rect x="477.50" y="193.50" width="1.5" height="1.3" fill="#3a76a0" opacity="1.00"/><rect x="482.50" y="193.50" width="1.5" height="1.3" fill="#3a76a0" opacity="1.00"/><rect x="485.00" y="193.50" width="1.5" height="1.3" fill="#3a76a0" opacity="1.00"/><rect x="487.50" y="193.50" width="1.5" height="1.3" fill="#3a76a0" opacity="1.00"/><rect x="470.00" y="195.90" width="1.5" height="1.3" fill="#3a76a0" opacity="1.00"/><rect x="480.00" y="195.90" width="9.00" height="1.3" fill="#3a76a0" opacity="1.00"/><rect x="470.00" y="198.30" width="1.5" height="1.3" fill="#3a76a0" opacity="1.00"/><rect x="472.50" y="198.30" width="1.5" height="1.3" fill="#3a76a0" opacity="1.00"/><rect x="487.50" y="198.30" width="1.5" height="1.3" fill="#3a76a0" opacity="1.00"/><rect x="465.00" y="200.70" width="1.5" height="1.3" fill="#3a76a0" opacity="1.00"/><rect x="467.50" y="200.70" width="1.5" height="1.3" fill="#3a76a0" opacity="1.00"/><rect x="472.50" y="200.70" width="1.5" height="1.3" fill="#3a76a0" opacity="1.00"/><rect x="475.00" y="200.70" width="1.5" height="1.3" fill="#3a76a0" opacity="1.00"/><rect x="480.00" y="200.70" width="9.00" height="1.3" fill="#3a76a0" opacity="1.00"/><rect x="467.50" y="203.10" width="1.5" height="1.3" fill="#3a76a0" opacity="1.00"/><rect x="472.50" y="203.10" width="1.5" height="1.3" fill="#3a76a0" opacity="1.00"/><rect x="477.50" y="203.10" width="1.5" height="1.3" fill="#3a76a0" opacity="1.00"/><rect x="482.50" y="203.10" width="1.5" height="1.3" fill="#3a76a0" opacity="1.00"/><rect x="485.00" y="203.10" width="1.5" height="1.3" fill="#3a76a0" opacity="1.00"/><rect x="487.50" y="203.10" width="1.5" height="1.3" fill="#3a76a0" opacity="1.00"/><rect x="465.00" y="205.50" width="1.5" height="1.3" fill="#3a76a0" opacity="1.00"/><rect x="472.50" y="205.50" width="1.5" height="1.3" fill="#3a76a0" opacity="1.00"/><rect x="475.00" y="205.50" width="1.5" height="1.3" fill="#3a76a0" opacity="1.00"/><rect x="477.50" y="205.50" width="1.5" height="1.3" fill="#3a76a0" opacity="1.00"/><rect x="482.50" y="205.50" width="1.5" height="1.3" fill="#3a76a0" opacity="1.00"/><rect x="485.00" y="205.50" width="1.5" height="1.3" fill="#3a76a0" opacity="1.00"/><rect x="465.00" y="207.90" width="1.5" height="1.3" fill="#3a76a0" opacity="1.00"/><rect x="467.50" y="207.90" width="1.5" height="1.3" fill="#3a76a0" opacity="1.00"/><rect x="470.00" y="207.90" width="1.5" height="1.3" fill="#3a76a0" opacity="1.00"/><rect x="472.50" y="207.90" width="1.5" height="1.3" fill="#3a76a0" opacity="1.00"/><rect x="475.00" y="207.90" width="1.5" height="1.3" fill="#3a76a0" opacity="1.00"/><rect x="482.50" y="207.90" width="1.5" height="1.3" fill="#3a76a0" opacity="1.00"/><rect x="485.00" y="207.90" width="1.5" height="1.3" fill="#3a76a0" opacity="1.00"/><rect x="465.00" y="210.30" width="9.00" height="1.3" fill="#3a76a0" opacity="1.00"/><rect x="475.00" y="210.30" width="4.00" height="1.3" fill="#3a76a0" opacity="1.00"/><rect x="480.00" y="210.30" width="1.5" height="1.3" fill="#3a76a0" opacity="1.00"/><rect x="485.00" y="210.30" width="1.5" height="1.3" fill="#3a76a0" opacity="1.00"/><rect x="487.50" y="210.30" width="1.5" height="1.3" fill="#3a76a0" opacity="1.00"/><rect x="465.00" y="212.70" width="1.5" height="1.3" fill="#3a76a0" opacity="1.00"/><rect x="467.50" y="212.70" width="1.5" height="1.3" fill="#3a76a0" opacity="1.00"/><rect x="470.00" y="212.70" width="1.5" height="1.3" fill="#3a76a0" opacity="1.00"/><rect x="477.50" y="212.70" width="1.5" height="1.3" fill="#3a76a0" opacity="1.00"/><rect x="480.00" y="212.70" width="6.50" height="1.3" fill="#3a76a0" opacity="1.00"/><rect x="465.00" y="215.10" width="1.5" height="1.3" fill="#3a76a0" opacity="1.00"/><rect x="467.50" y="215.10" width="1.5" height="1.3" fill="#3a76a0" opacity="1.00"/><rect x="475.00" y="215.10" width="6.50" height="1.3" fill="#3a76a0" opacity="1.00"/><rect x="482.50" y="215.10" width="1.5" height="1.3" fill="#3a76a0" opacity="1.00"/><rect x="485.00" y="215.10" width="1.5" height="1.3" fill="#3a76a0" opacity="1.00"/><rect x="465.00" y="217.50" width="1.5" height="1.3" fill="#3a76a0" opacity="1.00"/><rect x="467.50" y="217.50" width="1.5" height="1.3" fill="#3a76a0" opacity="1.00"/><rect x="470.00" y="217.50" width="1.5" height="1.3" fill="#3a76a0" opacity="1.00"/><rect x="472.50" y="217.50" width="1.5" height="1.3" fill="#3a76a0" opacity="1.00"/><rect x="475.00" y="217.50" width="1.5" height="1.3" fill="#3a76a0" opacity="1.00"/><rect x="477.50" y="217.50" width="1.5" height="1.3" fill="#3a76a0" opacity="1.00"/><rect x="480.00" y="217.50" width="1.5" height="1.3" fill="#3a76a0" opacity="1.00"/><rect x="485.00" y="217.50" width="1.5" height="1.3" fill="#3a76a0" opacity="1.00"/><rect x="467.50" y="219.90" width="1.5" height="1.3" fill="#3a76a0" opacity="1.00"/><rect x="470.00" y="219.90" width="1.5" height="1.3" fill="#3a76a0" opacity="1.00"/><rect x="475.00" y="219.90" width="1.5" height="1.3" fill="#3a76a0" opacity="1.00"/><rect x="477.50" y="219.90" width="1.5" height="1.3" fill="#3a76a0" opacity="1.00"/><rect x="480.00" y="219.90" width="1.5" height="1.3" fill="#3a76a0" opacity="1.00"/><rect x="465.00" y="222.30" width="1.5" height="1.3" fill="#3a76a0" opacity="1.00"/><rect x="467.50" y="222.30" width="1.5" height="1.3" fill="#3a76a0" opacity="1.00"/><rect x="470.00" y="222.30" width="1.5" height="1.3" fill="#3a76a0" opacity="1.00"/><rect x="472.50" y="222.30" width="1.5" height="1.3" fill="#3a76a0" opacity="1.00"/><rect x="477.50" y="222.30" width="1.5" height="1.3" fill="#3a76a0" opacity="1.00"/><rect x="480.00" y="222.30" width="1.5" height="1.3" fill="#3a76a0" opacity="1.00"/><rect x="482.50" y="222.30" width="1.5" height="1.3" fill="#3a76a0" opacity="1.00"/><rect x="485.00" y="222.30" width="1.5" height="1.3" fill="#3a76a0" opacity="1.00"/><rect x="487.50" y="222.30" width="1.5" height="1.3" fill="#3a76a0" opacity="1.00"/><rect x="465.00" y="224.70" width="1.5" height="1.3" fill="#3a76a0" opacity="1.00"/><rect x="467.50" y="224.70" width="9.00" height="1.3" fill="#3a76a0" opacity="1.00"/><rect x="477.50" y="224.70" width="6.50" height="1.3" fill="#3a76a0" opacity="1.00"/><rect x="465.00" y="227.10" width="1.5" height="1.3" fill="#3a76a0" opacity="1.00"/><rect x="467.50" y="227.10" width="1.5" height="1.3" fill="#3a76a0" opacity="1.00"/><rect x="470.00" y="227.10" width="1.5" height="1.3" fill="#3a76a0" opacity="1.00"/><rect x="480.00" y="227.10" width="1.5" height="1.3" fill="#3a76a0" opacity="1.00"/><rect x="482.50" y="227.10" width="1.5" height="1.3" fill="#3a76a0" opacity="1.00"/><rect x="485.00" y="227.10" width="1.5" height="1.3" fill="#3a76a0" opacity="1.00"/><rect x="487.50" y="227.10" width="1.5" height="1.3" fill="#3a76a0" opacity="1.00"/><rect x="465.00" y="229.50" width="1.5" height="1.3" fill="#3a76a0" opacity="1.00"/><rect x="467.50" y="229.50" width="6.50" height="1.3" fill="#3a76a0" opacity="1.00"/><rect x="477.50" y="229.50" width="1.5" height="1.3" fill="#3a76a0" opacity="1.00"/><rect x="487.50" y="229.50" width="1.5" height="1.3" fill="#3a76a0" opacity="1.00"/><rect x="472.50" y="231.90" width="1.5" height="1.3" fill="#3a76a0" opacity="1.00"/><rect x="475.00" y="231.90" width="1.5" height="1.3" fill="#3a76a0" opacity="1.00"/><rect x="480.00" y="231.90" width="1.5" height="1.3" fill="#3a76a0" opacity="1.00"/><rect x="482.50" y="231.90" width="1.5" height="1.3" fill="#3a76a0" opacity="1.00"/><rect x="485.00" y="231.90" width="1.5" height="1.3" fill="#3a76a0" opacity="1.00"/><rect x="467.50" y="234.30" width="1.5" height="1.3" fill="#3a76a0" opacity="1.00"/><rect x="472.50" y="234.30" width="1.5" height="1.3" fill="#3a76a0" opacity="1.00"/><rect x="475.00" y="234.30" width="1.5" height="1.3" fill="#3a76a0" opacity="1.00"/><rect x="477.50" y="234.30" width="1.5" height="1.3" fill="#3a76a0" opacity="1.00"/><rect x="482.50" y="234.30" width="6.50" height="1.3" fill="#3a76a0" opacity="1.00"/><rect x="465.00" y="236.70" width="1.5" height="1.3" fill="#3a76a0" opacity="1.00"/><rect x="470.00" y="236.70" width="6.50" height="1.3" fill="#3a76a0" opacity="1.00"/><rect x="477.50" y="236.70" width="4.00" height="1.3" fill="#3a76a0" opacity="1.00"/><rect x="487.50" y="236.70" width="1.5" height="1.3" fill="#3a76a0" opacity="1.00"/><rect x="467.50" y="239.10" width="1.5" height="1.3" fill="#3a76a0" opacity="1.00"/><rect x="475.00" y="239.10" width="9.00" height="1.3" fill="#3a76a0" opacity="1.00"/><rect x="485.00" y="239.10" width="1.5" height="1.3" fill="#3a76a0" opacity="1.00"/><rect x="487.50" y="239.10" width="1.5" height="1.3" fill="#3a76a0" opacity="1.00"/><rect x="467.50" y="241.50" width="1.5" height="1.3" fill="#3a76a0" opacity="0.99"/><rect x="472.50" y="241.50" width="4.00" height="1.3" fill="#3a76a0" opacity="0.99"/><rect x="477.50" y="241.50" width="1.5" height="1.3" fill="#3a76a0" opacity="0.99"/><rect x="480.00" y="241.50" width="1.5" height="1.3" fill="#3a76a0" opacity="0.99"/><rect x="482.50" y="241.50" width="1.5" height="1.3" fill="#3a76a0" opacity="0.99"/><rect x="485.00" y="241.50" width="1.5" height="1.3" fill="#3a76a0" opacity="0.99"/><rect x="467.50" y="243.90" width="1.5" height="1.3" fill="#3a76a0" opacity="0.96"/><rect x="470.00" y="243.90" width="1.5" height="1.3" fill="#3a76a0" opacity="0.96"/><rect x="472.50" y="243.90" width="1.5" height="1.3" fill="#3a76a0" opacity="0.96"/><rect x="480.00" y="243.90" width="1.5" height="1.3" fill="#3a76a0" opacity="0.96"/><rect x="487.50" y="243.90" width="1.5" height="1.3" fill="#3a76a0" opacity="0.96"/><rect x="472.50" y="246.30" width="1.5" height="1.3" fill="#3a76a0" opacity="0.94"/><rect x="475.00" y="246.30" width="1.5" height="1.3" fill="#3a76a0" opacity="0.94"/><rect x="482.50" y="246.30" width="1.5" height="1.3" fill="#3a76a0" opacity="0.94"/><rect x="485.00" y="246.30" width="1.5" height="1.3" fill="#3a76a0" opacity="0.94"/><rect x="467.50" y="248.70" width="1.5" height="1.3" fill="#3a76a0" opacity="0.92"/><rect x="470.00" y="248.70" width="1.5" height="1.3" fill="#3a76a0" opacity="0.92"/><rect x="472.50" y="248.70" width="1.5" height="1.3" fill="#3a76a0" opacity="0.92"/><rect x="475.00" y="248.70" width="1.5" height="1.3" fill="#3a76a0" opacity="0.92"/><rect x="480.00" y="248.70" width="1.5" height="1.3" fill="#3a76a0" opacity="0.92"/><rect x="485.00" y="248.70" width="1.5" height="1.3" fill="#3a76a0" opacity="0.92"/><rect x="487.50" y="248.70" width="1.5" height="1.3" fill="#3a76a0" opacity="0.92"/><rect x="470.00" y="251.10" width="1.5" height="1.3" fill="#3a76a0" opacity="0.89"/><rect x="485.00" y="251.10" width="1.5" height="1.3" fill="#3a76a0" opacity="0.89"/><rect x="465.00" y="253.50" width="1.5" height="1.3" fill="#3a76a0" opacity="0.87"/><rect x="472.50" y="253.50" width="1.5" height="1.3" fill="#3a76a0" opacity="0.87"/><rect x="475.00" y="253.50" width="1.5" height="1.3" fill="#3a76a0" opacity="0.87"/><rect x="480.00" y="253.50" width="1.5" height="1.3" fill="#3a76a0" opacity="0.87"/><rect x="485.00" y="253.50" width="1.5" height="1.3" fill="#3a76a0" opacity="0.87"/><rect x="487.50" y="253.50" width="1.5" height="1.3" fill="#3a76a0" opacity="0.87"/><rect x="470.00" y="255.90" width="1.5" height="1.3" fill="#3a76a0" opacity="0.85"/><rect x="477.50" y="255.90" width="1.5" height="1.3" fill="#3a76a0" opacity="0.85"/><rect x="487.50" y="255.90" width="1.5" height="1.3" fill="#3a76a0" opacity="0.85"/><rect x="472.50" y="258.30" width="1.5" height="1.3" fill="#3a76a0" opacity="0.82"/><rect x="477.50" y="258.30" width="1.5" height="1.3" fill="#3a76a0" opacity="0.82"/><rect x="482.50" y="258.30" width="1.5" height="1.3" fill="#3a76a0" opacity="0.82"/><rect x="485.00" y="258.30" width="1.5" height="1.3" fill="#3a76a0" opacity="0.82"/><rect x="487.50" y="258.30" width="1.5" height="1.3" fill="#3a76a0" opacity="0.82"/><rect x="467.50" y="260.70" width="1.5" height="1.3" fill="#3a76a0" opacity="0.80"/><rect x="475.00" y="260.70" width="1.5" height="1.3" fill="#3a76a0" opacity="0.80"/><rect x="477.50" y="260.70" width="1.5" height="1.3" fill="#3a76a0" opacity="0.80"/><rect x="485.00" y="260.70" width="1.5" height="1.3" fill="#3a76a0" opacity="0.80"/><rect x="487.50" y="260.70" width="1.5" height="1.3" fill="#3a76a0" opacity="0.80"/><rect x="480.00" y="263.10" width="1.5" height="1.3" fill="#3a76a0" opacity="0.78"/><rect x="480.00" y="265.50" width="1.5" height="1.3" fill="#3a76a0" opacity="0.75"/><rect x="482.50" y="265.50" width="1.5" height="1.3" fill="#3a76a0" opacity="0.75"/><rect x="485.00" y="265.50" width="1.5" height="1.3" fill="#3a76a0" opacity="0.75"/><rect x="472.50" y="267.90" width="4.00" height="1.3" fill="#3a76a0" opacity="0.73"/><rect x="487.50" y="267.90" width="1.5" height="1.3" fill="#3a76a0" opacity="0.73"/><rect x="467.50" y="270.30" width="9.00" height="1.3" fill="#3a76a0" opacity="0.71"/><rect x="480.00" y="270.30" width="1.5" height="1.3" fill="#3a76a0" opacity="0.71"/><rect x="472.50" y="272.70" width="1.5" height="1.3" fill="#3a76a0" opacity="0.69"/><rect x="477.50" y="272.70" width="9.00" height="1.3" fill="#3a76a0" opacity="0.69"/><rect x="487.50" y="272.70" width="1.5" height="1.3" fill="#3a76a0" opacity="0.69"/><rect x="472.50" y="275.10" width="1.5" height="1.3" fill="#3a76a0" opacity="0.66"/><rect x="467.50" y="277.50" width="4.00" height="1.3" fill="#3a76a0" opacity="0.64"/><rect x="477.50" y="277.50" width="1.5" height="1.3" fill="#3a76a0" opacity="0.64"/><rect x="480.00" y="277.50" width="1.5" height="1.3" fill="#3a76a0" opacity="0.64"/><rect x="482.50" y="279.90" width="1.5" height="1.3" fill="#3a76a0" opacity="0.62"/><rect x="465.00" y="282.30" width="1.5" height="1.3" fill="#3a76a0" opacity="0.59"/><rect x="485.00" y="282.30" width="1.5" height="1.3" fill="#3a76a0" opacity="0.59"/><rect x="472.50" y="287.10" width="1.5" height="1.3" fill="#3a76a0" opacity="0.55"/><rect x="490.50" y="188.70" width="1.5" height="1.0" fill="#4b86ab" opacity="0.95"/><rect x="490.50" y="190.40" width="1.5" height="1.0" fill="#4b86ab" opacity="0.95"/><rect x="492.40" y="192.10" width="1.5" height="1.0" fill="#4b86ab" opacity="0.95"/><rect x="490.50" y="193.80" width="1.5" height="1.0" fill="#4b86ab" opacity="0.95"/><rect x="492.40" y="193.80" width="1.5" height="1.0" fill="#4b86ab" opacity="0.95"/><rect x="490.50" y="195.50" width="1.5" height="1.0" fill="#4b86ab" opacity="0.95"/><rect x="494.30" y="197.20" width="1.5" height="1.0" fill="#4b86ab" opacity="0.95"/><rect x="490.50" y="198.90" width="1.5" height="1.0" fill="#4b86ab" opacity="0.95"/><rect x="492.40" y="198.90" width="1.5" height="1.0" fill="#4b86ab" opacity="0.95"/><rect x="492.40" y="200.60" width="1.5" height="1.0" fill="#4b86ab" opacity="0.95"/><rect x="492.40" y="202.30" width="1.5" height="1.0" fill="#4b86ab" opacity="0.95"/><rect x="494.30" y="202.30" width="1.5" height="1.0" fill="#4b86ab" opacity="0.95"/><rect x="496.20" y="202.30" width="1.5" height="1.0" fill="#4b86ab" opacity="0.95"/><rect x="490.50" y="204.00" width="1.5" height="1.0" fill="#4b86ab" opacity="0.95"/><rect x="494.30" y="205.70" width="1.5" height="1.0" fill="#4b86ab" opacity="0.95"/><rect x="496.20" y="205.70" width="1.5" height="1.0" fill="#4b86ab" opacity="0.95"/><rect x="490.50" y="207.40" width="1.5" height="1.0" fill="#4b86ab" opacity="0.95"/><rect x="494.30" y="207.40" width="1.5" height="1.0" fill="#4b86ab" opacity="0.95"/><rect x="496.20" y="207.40" width="1.5" height="1.0" fill="#4b86ab" opacity="0.95"/><rect x="490.50" y="209.10" width="1.5" height="1.0" fill="#4b86ab" opacity="0.95"/><rect x="492.40" y="209.10" width="1.5" height="1.0" fill="#4b86ab" opacity="0.95"/><rect x="494.30" y="209.10" width="1.5" height="1.0" fill="#4b86ab" opacity="0.95"/><rect x="496.20" y="209.10" width="1.5" height="1.0" fill="#4b86ab" opacity="0.95"/><rect x="492.40" y="210.80" width="1.5" height="1.0" fill="#4b86ab" opacity="0.95"/><rect x="494.30" y="210.80" width="1.5" height="1.0" fill="#4b86ab" opacity="0.95"/><rect x="490.50" y="212.50" width="1.5" height="1.0" fill="#4b86ab" opacity="0.95"/><rect x="496.20" y="212.50" width="1.5" height="1.0" fill="#4b86ab" opacity="0.95"/><rect x="490.50" y="214.20" width="1.5" height="1.0" fill="#4b86ab" opacity="0.95"/><rect x="492.40" y="214.20" width="1.5" height="1.0" fill="#4b86ab" opacity="0.95"/><rect x="496.20" y="214.20" width="1.5" height="1.0" fill="#4b86ab" opacity="0.95"/><rect x="492.40" y="215.90" width="1.5" height="1.0" fill="#4b86ab" opacity="0.95"/><rect x="494.30" y="215.90" width="1.5" height="1.0" fill="#4b86ab" opacity="0.95"/><rect x="490.50" y="217.60" width="1.5" height="1.0" fill="#4b86ab" opacity="0.95"/><rect x="494.30" y="217.60" width="1.5" height="1.0" fill="#4b86ab" opacity="0.95"/><rect x="496.20" y="217.60" width="1.5" height="1.0" fill="#4b86ab" opacity="0.95"/><rect x="490.50" y="219.30" width="1.5" height="1.0" fill="#4b86ab" opacity="0.95"/><rect x="496.20" y="219.30" width="1.5" height="1.0" fill="#4b86ab" opacity="0.95"/><rect x="490.50" y="221.00" width="1.5" height="1.0" fill="#4b86ab" opacity="0.95"/><rect x="492.40" y="221.00" width="1.5" height="1.0" fill="#4b86ab" opacity="0.95"/><rect x="496.20" y="221.00" width="1.5" height="1.0" fill="#4b86ab" opacity="0.95"/><rect x="490.50" y="222.70" width="1.5" height="1.0" fill="#4b86ab" opacity="0.95"/><rect x="492.40" y="222.70" width="1.5" height="1.0" fill="#4b86ab" opacity="0.95"/><rect x="496.20" y="222.70" width="1.5" height="1.0" fill="#4b86ab" opacity="0.95"/><rect x="492.40" y="224.40" width="1.5" height="1.0" fill="#4b86ab" opacity="0.95"/><rect x="494.30" y="224.40" width="1.5" height="1.0" fill="#4b86ab" opacity="0.95"/><rect x="490.50" y="226.10" width="1.5" height="1.0" fill="#4b86ab" opacity="0.95"/><rect x="492.40" y="226.10" width="1.5" height="1.0" fill="#4b86ab" opacity="0.95"/><rect x="496.20" y="226.10" width="1.5" height="1.0" fill="#4b86ab" opacity="0.95"/><rect x="490.50" y="229.50" width="1.5" height="1.0" fill="#4b86ab" opacity="0.95"/><rect x="492.40" y="229.50" width="1.5" height="1.0" fill="#4b86ab" opacity="0.95"/><rect x="494.30" y="229.50" width="1.5" height="1.0" fill="#4b86ab" opacity="0.95"/><rect x="490.50" y="231.20" width="1.5" height="1.0" fill="#4b86ab" opacity="0.95"/><rect x="494.30" y="231.20" width="1.5" height="1.0" fill="#4b86ab" opacity="0.95"/><rect x="496.20" y="231.20" width="1.5" height="1.0" fill="#4b86ab" opacity="0.95"/><rect x="490.50" y="232.90" width="1.5" height="1.0" fill="#4b86ab" opacity="0.95"/><rect x="494.30" y="232.90" width="1.5" height="1.0" fill="#4b86ab" opacity="0.95"/><rect x="496.20" y="232.90" width="1.5" height="1.0" fill="#4b86ab" opacity="0.95"/><rect x="492.40" y="234.60" width="1.5" height="1.0" fill="#4b86ab" opacity="0.95"/><rect x="494.30" y="234.60" width="1.5" height="1.0" fill="#4b86ab" opacity="0.95"/><rect x="496.20" y="234.60" width="1.5" height="1.0" fill="#4b86ab" opacity="0.95"/><rect x="496.20" y="236.30" width="1.5" height="1.0" fill="#4b86ab" opacity="0.95"/><rect x="490.50" y="238.00" width="1.5" height="1.0" fill="#4b86ab" opacity="0.95"/><rect x="492.40" y="238.00" width="1.5" height="1.0" fill="#4b86ab" opacity="0.95"/><rect x="492.40" y="239.70" width="1.5" height="1.0" fill="#4b86ab" opacity="0.95"/><rect x="494.30" y="239.70" width="1.5" height="1.0" fill="#4b86ab" opacity="0.95"/><rect x="490.50" y="241.40" width="1.5" height="1.0" fill="#4b86ab" opacity="0.89"/><rect x="492.40" y="241.40" width="1.5" height="1.0" fill="#4b86ab" opacity="0.89"/><rect x="494.30" y="241.40" width="1.5" height="1.0" fill="#4b86ab" opacity="0.89"/><rect x="490.50" y="243.10" width="1.5" height="1.0" fill="#4b86ab" opacity="0.87"/><rect x="492.40" y="243.10" width="1.5" height="1.0" fill="#4b86ab" opacity="0.87"/><rect x="494.30" y="243.10" width="1.5" height="1.0" fill="#4b86ab" opacity="0.87"/><rect x="492.40" y="244.80" width="1.5" height="1.0" fill="#4b86ab" opacity="0.85"/><rect x="494.30" y="244.80" width="1.5" height="1.0" fill="#4b86ab" opacity="0.85"/><rect x="496.20" y="244.80" width="1.5" height="1.0" fill="#4b86ab" opacity="0.85"/><rect x="490.50" y="246.50" width="1.5" height="1.0" fill="#4b86ab" opacity="0.84"/><rect x="492.40" y="246.50" width="1.5" height="1.0" fill="#4b86ab" opacity="0.84"/><rect x="494.30" y="246.50" width="1.5" height="1.0" fill="#4b86ab" opacity="0.84"/><rect x="496.20" y="246.50" width="1.5" height="1.0" fill="#4b86ab" opacity="0.84"/><rect x="490.50" y="248.20" width="1.5" height="1.0" fill="#4b86ab" opacity="0.82"/><rect x="496.20" y="248.20" width="1.5" height="1.0" fill="#4b86ab" opacity="0.82"/><rect x="492.40" y="249.90" width="1.5" height="1.0" fill="#4b86ab" opacity="0.80"/><rect x="494.30" y="249.90" width="1.5" height="1.0" fill="#4b86ab" opacity="0.80"/><rect x="494.30" y="251.60" width="1.5" height="1.0" fill="#4b86ab" opacity="0.79"/><rect x="496.20" y="251.60" width="1.5" height="1.0" fill="#4b86ab" opacity="0.79"/><rect x="492.40" y="253.30" width="1.5" height="1.0" fill="#4b86ab" opacity="0.77"/><rect x="494.30" y="253.30" width="1.5" height="1.0" fill="#4b86ab" opacity="0.77"/><rect x="496.20" y="253.30" width="1.5" height="1.0" fill="#4b86ab" opacity="0.77"/><rect x="490.50" y="255.00" width="1.5" height="1.0" fill="#4b86ab" opacity="0.76"/><rect x="492.40" y="255.00" width="1.5" height="1.0" fill="#4b86ab" opacity="0.76"/><rect x="496.20" y="256.70" width="1.5" height="1.0" fill="#4b86ab" opacity="0.74"/><rect x="490.50" y="261.80" width="1.5" height="1.0" fill="#4b86ab" opacity="0.69"/><rect x="496.20" y="265.20" width="1.5" height="1.0" fill="#4b86ab" opacity="0.66"/><rect x="490.50" y="268.60" width="1.5" height="1.0" fill="#4b86ab" opacity="0.63"/><rect x="496.20" y="270.30" width="1.5" height="1.0" fill="#4b86ab" opacity="0.61"/><rect x="492.40" y="273.70" width="1.5" height="1.0" fill="#4b86ab" opacity="0.58"/><rect x="496.20" y="273.70" width="1.5" height="1.0" fill="#4b86ab" opacity="0.58"/><rect x="496.20" y="275.40" width="1.5" height="1.0" fill="#4b86ab" opacity="0.56"/><rect x="490.50" y="283.90" width="1.5" height="1.0" fill="#4b86ab" opacity="0.48"/><rect x="496.20" y="283.90" width="1.5" height="1.0" fill="#4b86ab" opacity="0.48"/><rect x="502.80" y="224.00" width="1.6" height="1.3" fill="#4a85ab" opacity="1.00"/><rect x="505.30" y="224.00" width="1.6" height="1.3" fill="#4a85ab" opacity="1.00"/><rect x="507.80" y="224.00" width="1.6" height="1.3" fill="#4a85ab" opacity="1.00"/><rect x="515.30" y="224.00" width="1.6" height="1.3" fill="#4a85ab" opacity="1.00"/><rect x="517.80" y="224.00" width="6.60" height="1.3" fill="#4a85ab" opacity="1.00"/><rect x="500.30" y="226.60" width="1.6" height="1.3" fill="#4a85ab" opacity="1.00"/><rect x="502.80" y="226.60" width="1.6" height="1.3" fill="#4a85ab" opacity="1.00"/><rect x="505.30" y="226.60" width="1.6" height="1.3" fill="#4a85ab" opacity="1.00"/><rect x="507.80" y="226.60" width="9.10" height="1.3" fill="#4a85ab" opacity="1.00"/><rect x="520.30" y="226.60" width="1.6" height="1.3" fill="#4a85ab" opacity="1.00"/><rect x="522.80" y="226.60" width="1.6" height="1.3" fill="#4a85ab" opacity="1.00"/><rect x="502.80" y="229.20" width="1.6" height="1.3" fill="#4a85ab" opacity="1.00"/><rect x="505.30" y="229.20" width="1.6" height="1.3" fill="#4a85ab" opacity="1.00"/><rect x="507.80" y="229.20" width="9.10" height="1.3" fill="#4a85ab" opacity="1.00"/><rect x="522.80" y="229.20" width="1.6" height="1.3" fill="#4a85ab" opacity="1.00"/><rect x="502.80" y="231.80" width="4.10" height="1.3" fill="#4a85ab" opacity="1.00"/><rect x="510.30" y="231.80" width="4.10" height="1.3" fill="#4a85ab" opacity="1.00"/><rect x="517.80" y="231.80" width="1.6" height="1.3" fill="#4a85ab" opacity="1.00"/><rect x="522.80" y="231.80" width="1.6" height="1.3" fill="#4a85ab" opacity="1.00"/><rect x="500.30" y="234.40" width="1.6" height="1.3" fill="#4a85ab" opacity="1.00"/><rect x="507.80" y="234.40" width="1.6" height="1.3" fill="#4a85ab" opacity="1.00"/><rect x="510.30" y="234.40" width="1.6" height="1.3" fill="#4a85ab" opacity="1.00"/><rect x="512.80" y="234.40" width="1.6" height="1.3" fill="#4a85ab" opacity="1.00"/><rect x="515.30" y="234.40" width="6.60" height="1.3" fill="#4a85ab" opacity="1.00"/><rect x="500.30" y="237.00" width="6.60" height="1.3" fill="#4a85ab" opacity="1.00"/><rect x="507.80" y="237.00" width="6.60" height="1.3" fill="#4a85ab" opacity="1.00"/><rect x="517.80" y="237.00" width="1.6" height="1.3" fill="#4a85ab" opacity="1.00"/><rect x="522.80" y="237.00" width="1.6" height="1.3" fill="#4a85ab" opacity="1.00"/><rect x="505.30" y="239.60" width="1.6" height="1.3" fill="#4a85ab" opacity="1.00"/><rect x="510.30" y="239.60" width="1.6" height="1.3" fill="#4a85ab" opacity="1.00"/><rect x="512.80" y="239.60" width="1.6" height="1.3" fill="#4a85ab" opacity="1.00"/><rect x="520.30" y="239.60" width="1.6" height="1.3" fill="#4a85ab" opacity="1.00"/><rect x="500.30" y="242.20" width="9.10" height="1.3" fill="#4a85ab" opacity="1.00"/><rect x="512.80" y="242.20" width="1.6" height="1.3" fill="#4a85ab" opacity="1.00"/><rect x="515.30" y="242.20" width="1.6" height="1.3" fill="#4a85ab" opacity="1.00"/><rect x="520.30" y="242.20" width="1.6" height="1.3" fill="#4a85ab" opacity="1.00"/><rect x="500.30" y="244.80" width="1.6" height="1.3" fill="#4a85ab" opacity="1.00"/><rect x="502.80" y="244.80" width="1.6" height="1.3" fill="#4a85ab" opacity="1.00"/><rect x="505.30" y="244.80" width="1.6" height="1.3" fill="#4a85ab" opacity="1.00"/><rect x="507.80" y="244.80" width="1.6" height="1.3" fill="#4a85ab" opacity="1.00"/><rect x="510.30" y="244.80" width="1.6" height="1.3" fill="#4a85ab" opacity="1.00"/><rect x="515.30" y="244.80" width="1.6" height="1.3" fill="#4a85ab" opacity="1.00"/><rect x="517.80" y="244.80" width="1.6" height="1.3" fill="#4a85ab" opacity="1.00"/><rect x="520.30" y="244.80" width="1.6" height="1.3" fill="#4a85ab" opacity="1.00"/><rect x="505.30" y="247.40" width="1.6" height="1.3" fill="#4a85ab" opacity="1.00"/><rect x="507.80" y="247.40" width="1.6" height="1.3" fill="#4a85ab" opacity="1.00"/><rect x="515.30" y="247.40" width="1.6" height="1.3" fill="#4a85ab" opacity="1.00"/><rect x="520.30" y="247.40" width="1.6" height="1.3" fill="#4a85ab" opacity="1.00"/><rect x="522.80" y="247.40" width="1.6" height="1.3" fill="#4a85ab" opacity="1.00"/><rect x="500.30" y="250.00" width="1.6" height="1.3" fill="#4a85ab" opacity="1.00"/><rect x="502.80" y="252.60" width="1.6" height="1.3" fill="#4a85ab" opacity="1.00"/><rect x="505.30" y="252.60" width="1.6" height="1.3" fill="#4a85ab" opacity="1.00"/><rect x="507.80" y="252.60" width="4.10" height="1.3" fill="#4a85ab" opacity="1.00"/><rect x="512.80" y="252.60" width="9.10" height="1.3" fill="#4a85ab" opacity="1.00"/><rect x="522.80" y="252.60" width="1.6" height="1.3" fill="#4a85ab" opacity="1.00"/><rect x="500.30" y="255.20" width="1.6" height="1.3" fill="#4a85ab" opacity="1.00"/><rect x="507.80" y="255.20" width="4.10" height="1.3" fill="#4a85ab" opacity="1.00"/><rect x="512.80" y="255.20" width="1.6" height="1.3" fill="#4a85ab" opacity="1.00"/><rect x="517.80" y="255.20" width="1.6" height="1.3" fill="#4a85ab" opacity="1.00"/><rect x="520.30" y="255.20" width="1.6" height="1.3" fill="#4a85ab" opacity="1.00"/><rect x="505.30" y="257.80" width="6.60" height="1.3" fill="#4a85ab" opacity="1.00"/><rect x="520.30" y="257.80" width="1.6" height="1.3" fill="#4a85ab" opacity="1.00"/><rect x="522.80" y="257.80" width="1.6" height="1.3" fill="#4a85ab" opacity="1.00"/><rect x="500.30" y="260.40" width="1.6" height="1.3" fill="#4a85ab" opacity="1.00"/><rect x="505.30" y="260.40" width="9.10" height="1.3" fill="#4a85ab" opacity="1.00"/><rect x="515.30" y="260.40" width="1.6" height="1.3" fill="#4a85ab" opacity="1.00"/><rect x="517.80" y="260.40" width="1.6" height="1.3" fill="#4a85ab" opacity="1.00"/><rect x="520.30" y="260.40" width="1.6" height="1.3" fill="#4a85ab" opacity="1.00"/><rect x="500.30" y="263.00" width="1.6" height="1.3" fill="#4a85ab" opacity="1.00"/><rect x="502.80" y="263.00" width="9.10" height="1.3" fill="#4a85ab" opacity="1.00"/><rect x="520.30" y="263.00" width="1.6" height="1.3" fill="#4a85ab" opacity="1.00"/><rect x="500.30" y="265.60" width="1.6" height="1.3" fill="#4a85ab" opacity="1.00"/><rect x="502.80" y="265.60" width="1.6" height="1.3" fill="#4a85ab" opacity="1.00"/><rect x="507.80" y="265.60" width="9.10" height="1.3" fill="#4a85ab" opacity="1.00"/><rect x="522.80" y="265.60" width="1.6" height="1.3" fill="#4a85ab" opacity="1.00"/><rect x="510.30" y="268.20" width="1.6" height="1.3" fill="#4a85ab" opacity="1.00"/><rect x="515.30" y="268.20" width="4.10" height="1.3" fill="#4a85ab" opacity="1.00"/><rect x="520.30" y="268.20" width="1.6" height="1.3" fill="#4a85ab" opacity="1.00"/><rect x="500.30" y="270.80" width="1.6" height="1.3" fill="#4a85ab" opacity="0.99"/><rect x="512.80" y="270.80" width="9.10" height="1.3" fill="#4a85ab" opacity="0.99"/><rect x="502.80" y="273.40" width="1.6" height="1.3" fill="#4a85ab" opacity="0.96"/><rect x="512.80" y="273.40" width="1.6" height="1.3" fill="#4a85ab" opacity="0.96"/><rect x="517.80" y="273.40" width="1.6" height="1.3" fill="#4a85ab" opacity="0.96"/><rect x="502.80" y="276.00" width="6.60" height="1.3" fill="#4a85ab" opacity="0.93"/><rect x="510.30" y="276.00" width="4.10" height="1.3" fill="#4a85ab" opacity="0.93"/><rect x="515.30" y="276.00" width="9.10" height="1.3" fill="#4a85ab" opacity="0.93"/><rect x="500.30" y="278.60" width="1.6" height="1.3" fill="#4a85ab" opacity="0.90"/><rect x="505.30" y="281.20" width="6.60" height="1.3" fill="#4a85ab" opacity="0.87"/><rect x="515.30" y="281.20" width="1.6" height="1.3" fill="#4a85ab" opacity="0.87"/><rect x="500.30" y="283.80" width="1.6" height="1.3" fill="#4a85ab" opacity="0.84"/><rect x="505.30" y="283.80" width="1.6" height="1.3" fill="#4a85ab" opacity="0.84"/><rect x="520.30" y="283.80" width="1.6" height="1.3" fill="#4a85ab" opacity="0.84"/><rect x="522.80" y="283.80" width="1.6" height="1.3" fill="#4a85ab" opacity="0.84"/><rect x="510.30" y="286.40" width="6.60" height="1.3" fill="#4a85ab" opacity="0.80"/><rect x="520.30" y="286.40" width="1.6" height="1.3" fill="#4a85ab" opacity="0.80"/><rect x="500.30" y="289.00" width="1.6" height="1.3" fill="#4a85ab" opacity="0.77"/><rect x="507.80" y="289.00" width="9.10" height="1.3" fill="#4a85ab" opacity="0.77"/><rect x="517.80" y="291.60" width="4.10" height="1.3" fill="#4a85ab" opacity="0.74"/><rect x="500.30" y="294.20" width="6.60" height="1.3" fill="#4a85ab" opacity="0.71"/><rect x="517.80" y="294.20" width="1.6" height="1.3" fill="#4a85ab" opacity="0.71"/><rect x="522.80" y="294.20" width="1.6" height="1.3" fill="#4a85ab" opacity="0.71"/><rect x="517.80" y="296.80" width="1.6" height="1.3" fill="#4a85ab" opacity="0.68"/><rect x="500.30" y="299.40" width="1.6" height="1.3" fill="#4a85ab" opacity="0.65"/><rect x="512.80" y="299.40" width="1.6" height="1.3" fill="#4a85ab" opacity="0.65"/><rect x="522.80" y="299.40" width="1.6" height="1.3" fill="#4a85ab" opacity="0.65"/><rect x="515.30" y="302.00" width="1.6" height="1.3" fill="#4a85ab" opacity="0.62"/><rect x="510.30" y="304.60" width="1.6" height="1.3" fill="#4a85ab" opacity="0.59"/><rect x="515.30" y="304.60" width="1.6" height="1.3" fill="#4a85ab" opacity="0.59"/><rect x="525.50" y="224.00" width="1.5" height="1.0" fill="#6c9cc0" opacity="0.95"/><rect x="525.50" y="225.70" width="1.5" height="1.0" fill="#6c9cc0" opacity="0.95"/><rect x="525.50" y="227.40" width="1.5" height="1.0" fill="#6c9cc0" opacity="0.95"/><rect x="525.50" y="229.10" width="1.5" height="1.0" fill="#6c9cc0" opacity="0.95"/><rect x="527.40" y="229.10" width="1.5" height="1.0" fill="#6c9cc0" opacity="0.95"/><rect x="525.50" y="230.80" width="1.5" height="1.0" fill="#6c9cc0" opacity="0.95"/><rect x="527.40" y="230.80" width="1.5" height="1.0" fill="#6c9cc0" opacity="0.95"/><rect x="525.50" y="232.50" width="1.5" height="1.0" fill="#6c9cc0" opacity="0.95"/><rect x="529.30" y="232.50" width="1.5" height="1.0" fill="#6c9cc0" opacity="0.95"/><rect x="529.30" y="234.20" width="1.5" height="1.0" fill="#6c9cc0" opacity="0.95"/><rect x="531.20" y="234.20" width="1.5" height="1.0" fill="#6c9cc0" opacity="0.95"/><rect x="525.50" y="235.90" width="1.5" height="1.0" fill="#6c9cc0" opacity="0.95"/><rect x="527.40" y="235.90" width="1.5" height="1.0" fill="#6c9cc0" opacity="0.95"/><rect x="529.30" y="235.90" width="1.5" height="1.0" fill="#6c9cc0" opacity="0.95"/><rect x="531.20" y="235.90" width="1.5" height="1.0" fill="#6c9cc0" opacity="0.95"/><rect x="531.20" y="237.60" width="1.5" height="1.0" fill="#6c9cc0" opacity="0.95"/><rect x="525.50" y="239.30" width="1.5" height="1.0" fill="#6c9cc0" opacity="0.95"/><rect x="529.30" y="239.30" width="1.5" height="1.0" fill="#6c9cc0" opacity="0.95"/><rect x="525.50" y="241.00" width="1.5" height="1.0" fill="#6c9cc0" opacity="0.95"/><rect x="529.30" y="241.00" width="1.5" height="1.0" fill="#6c9cc0" opacity="0.95"/><rect x="525.50" y="242.70" width="1.5" height="1.0" fill="#6c9cc0" opacity="0.95"/><rect x="527.40" y="242.70" width="1.5" height="1.0" fill="#6c9cc0" opacity="0.95"/><rect x="529.30" y="242.70" width="1.5" height="1.0" fill="#6c9cc0" opacity="0.95"/><rect x="525.50" y="244.40" width="1.5" height="1.0" fill="#6c9cc0" opacity="0.95"/><rect x="527.40" y="244.40" width="1.5" height="1.0" fill="#6c9cc0" opacity="0.95"/><rect x="529.30" y="244.40" width="1.5" height="1.0" fill="#6c9cc0" opacity="0.95"/><rect x="525.50" y="246.10" width="1.5" height="1.0" fill="#6c9cc0" opacity="0.95"/><rect x="527.40" y="246.10" width="1.5" height="1.0" fill="#6c9cc0" opacity="0.95"/><rect x="529.30" y="246.10" width="1.5" height="1.0" fill="#6c9cc0" opacity="0.95"/><rect x="531.20" y="246.10" width="1.5" height="1.0" fill="#6c9cc0" opacity="0.95"/><rect x="529.30" y="247.80" width="1.5" height="1.0" fill="#6c9cc0" opacity="0.95"/><rect x="531.20" y="247.80" width="1.5" height="1.0" fill="#6c9cc0" opacity="0.95"/><rect x="525.50" y="249.50" width="1.5" height="1.0" fill="#6c9cc0" opacity="0.95"/><rect x="529.30" y="249.50" width="1.5" height="1.0" fill="#6c9cc0" opacity="0.95"/><rect x="531.20" y="249.50" width="1.5" height="1.0" fill="#6c9cc0" opacity="0.95"/><rect x="525.50" y="251.20" width="1.5" height="1.0" fill="#6c9cc0" opacity="0.95"/><rect x="525.50" y="252.90" width="1.5" height="1.0" fill="#6c9cc0" opacity="0.95"/><rect x="527.40" y="252.90" width="1.5" height="1.0" fill="#6c9cc0" opacity="0.95"/><rect x="529.30" y="252.90" width="1.5" height="1.0" fill="#6c9cc0" opacity="0.95"/><rect x="525.50" y="254.60" width="1.5" height="1.0" fill="#6c9cc0" opacity="0.95"/><rect x="529.30" y="254.60" width="1.5" height="1.0" fill="#6c9cc0" opacity="0.95"/><rect x="525.50" y="256.30" width="1.5" height="1.0" fill="#6c9cc0" opacity="0.95"/><rect x="531.20" y="256.30" width="1.5" height="1.0" fill="#6c9cc0" opacity="0.95"/><rect x="525.50" y="258.00" width="1.5" height="1.0" fill="#6c9cc0" opacity="0.95"/><rect x="529.30" y="258.00" width="1.5" height="1.0" fill="#6c9cc0" opacity="0.95"/><rect x="525.50" y="259.70" width="1.5" height="1.0" fill="#6c9cc0" opacity="0.95"/><rect x="527.40" y="259.70" width="1.5" height="1.0" fill="#6c9cc0" opacity="0.95"/><rect x="531.20" y="259.70" width="1.5" height="1.0" fill="#6c9cc0" opacity="0.95"/><rect x="525.50" y="261.40" width="1.5" height="1.0" fill="#6c9cc0" opacity="0.95"/><rect x="527.40" y="261.40" width="1.5" height="1.0" fill="#6c9cc0" opacity="0.95"/><rect x="529.30" y="261.40" width="1.5" height="1.0" fill="#6c9cc0" opacity="0.95"/><rect x="531.20" y="261.40" width="1.5" height="1.0" fill="#6c9cc0" opacity="0.95"/><rect x="525.50" y="263.10" width="1.5" height="1.0" fill="#6c9cc0" opacity="0.95"/><rect x="527.40" y="263.10" width="1.5" height="1.0" fill="#6c9cc0" opacity="0.95"/><rect x="529.30" y="263.10" width="1.5" height="1.0" fill="#6c9cc0" opacity="0.95"/><rect x="531.20" y="263.10" width="1.5" height="1.0" fill="#6c9cc0" opacity="0.95"/><rect x="531.20" y="264.80" width="1.5" height="1.0" fill="#6c9cc0" opacity="0.95"/><rect x="527.40" y="266.50" width="1.5" height="1.0" fill="#6c9cc0" opacity="0.95"/><rect x="531.20" y="266.50" width="1.5" height="1.0" fill="#6c9cc0" opacity="0.95"/><rect x="529.30" y="268.20" width="1.5" height="1.0" fill="#6c9cc0" opacity="0.95"/><rect x="531.20" y="268.20" width="1.5" height="1.0" fill="#6c9cc0" opacity="0.95"/><rect x="525.50" y="269.90" width="1.5" height="1.0" fill="#6c9cc0" opacity="0.95"/><rect x="527.40" y="269.90" width="1.5" height="1.0" fill="#6c9cc0" opacity="0.95"/><rect x="529.30" y="269.90" width="1.5" height="1.0" fill="#6c9cc0" opacity="0.95"/><rect x="525.50" y="271.60" width="1.5" height="1.0" fill="#6c9cc0" opacity="0.88"/><rect x="527.40" y="271.60" width="1.5" height="1.0" fill="#6c9cc0" opacity="0.88"/><rect x="529.30" y="271.60" width="1.5" height="1.0" fill="#6c9cc0" opacity="0.88"/><rect x="531.20" y="271.60" width="1.5" height="1.0" fill="#6c9cc0" opacity="0.88"/><rect x="527.40" y="273.30" width="1.5" height="1.0" fill="#6c9cc0" opacity="0.86"/><rect x="529.30" y="273.30" width="1.5" height="1.0" fill="#6c9cc0" opacity="0.86"/><rect x="525.50" y="275.00" width="1.5" height="1.0" fill="#6c9cc0" opacity="0.84"/><rect x="527.40" y="275.00" width="1.5" height="1.0" fill="#6c9cc0" opacity="0.84"/><rect x="529.30" y="276.70" width="1.5" height="1.0" fill="#6c9cc0" opacity="0.82"/><rect x="527.40" y="278.40" width="1.5" height="1.0" fill="#6c9cc0" opacity="0.80"/><rect x="529.30" y="278.40" width="1.5" height="1.0" fill="#6c9cc0" opacity="0.80"/><rect x="527.40" y="280.10" width="1.5" height="1.0" fill="#6c9cc0" opacity="0.78"/><rect x="529.30" y="280.10" width="1.5" height="1.0" fill="#6c9cc0" opacity="0.78"/><rect x="531.20" y="280.10" width="1.5" height="1.0" fill="#6c9cc0" opacity="0.78"/><rect x="525.50" y="281.80" width="1.5" height="1.0" fill="#6c9cc0" opacity="0.76"/><rect x="531.20" y="281.80" width="1.5" height="1.0" fill="#6c9cc0" opacity="0.76"/><rect x="529.30" y="283.50" width="1.5" height="1.0" fill="#6c9cc0" opacity="0.74"/><rect x="527.40" y="288.60" width="1.5" height="1.0" fill="#6c9cc0" opacity="0.68"/><rect x="527.40" y="292.00" width="1.5" height="1.0" fill="#6c9cc0" opacity="0.64"/><rect x="527.40" y="293.70" width="1.5" height="1.0" fill="#6c9cc0" opacity="0.62"/><rect x="529.30" y="295.40" width="1.5" height="1.0" fill="#6c9cc0" opacity="0.60"/><rect x="527.40" y="297.10" width="1.5" height="1.0" fill="#6c9cc0" opacity="0.58"/><rect x="529.30" y="297.10" width="1.5" height="1.0" fill="#6c9cc0" opacity="0.58"/><rect x="529.30" y="300.50" width="1.5" height="1.0" fill="#6c9cc0" opacity="0.54"/><rect x="362.80" y="212.00" width="1.3" height="1.2" fill="#356c96" opacity="1.00"/><rect x="365.40" y="212.00" width="9.10" height="1.2" fill="#356c96" opacity="1.00"/><rect x="375.80" y="212.00" width="1.3" height="1.2" fill="#356c96" opacity="1.00"/><rect x="381.00" y="212.00" width="1.3" height="1.2" fill="#356c96" opacity="1.00"/><rect x="386.20" y="212.00" width="1.3" height="1.2" fill="#356c96" opacity="1.00"/><rect x="388.80" y="212.00" width="1.3" height="1.2" fill="#356c96" opacity="1.00"/><rect x="362.80" y="214.80" width="1.3" height="1.2" fill="#356c96" opacity="1.00"/><rect x="365.40" y="214.80" width="1.3" height="1.2" fill="#356c96" opacity="1.00"/><rect x="370.60" y="214.80" width="1.3" height="1.2" fill="#356c96" opacity="1.00"/><rect x="373.20" y="214.80" width="1.3" height="1.2" fill="#356c96" opacity="1.00"/><rect x="375.80" y="214.80" width="1.3" height="1.2" fill="#356c96" opacity="1.00"/><rect x="378.40" y="214.80" width="1.3" height="1.2" fill="#356c96" opacity="1.00"/><rect x="381.00" y="214.80" width="3.90" height="1.2" fill="#356c96" opacity="1.00"/><rect x="386.20" y="214.80" width="6.50" height="1.2" fill="#356c96" opacity="1.00"/><rect x="362.80" y="217.60" width="6.50" height="1.2" fill="#356c96" opacity="1.00"/><rect x="373.20" y="217.60" width="1.3" height="1.2" fill="#356c96" opacity="1.00"/><rect x="386.20" y="217.60" width="1.3" height="1.2" fill="#356c96" opacity="1.00"/><rect x="388.80" y="217.60" width="1.3" height="1.2" fill="#356c96" opacity="1.00"/><rect x="362.80" y="220.40" width="1.3" height="1.2" fill="#356c96" opacity="1.00"/><rect x="365.40" y="220.40" width="1.3" height="1.2" fill="#356c96" opacity="1.00"/><rect x="373.20" y="220.40" width="1.3" height="1.2" fill="#356c96" opacity="1.00"/><rect x="381.00" y="220.40" width="6.50" height="1.2" fill="#356c96" opacity="1.00"/><rect x="362.80" y="223.20" width="1.3" height="1.2" fill="#356c96" opacity="1.00"/><rect x="368.00" y="223.20" width="1.3" height="1.2" fill="#356c96" opacity="1.00"/><rect x="375.80" y="223.20" width="1.3" height="1.2" fill="#356c96" opacity="1.00"/><rect x="378.40" y="223.20" width="1.3" height="1.2" fill="#356c96" opacity="1.00"/><rect x="381.00" y="223.20" width="1.3" height="1.2" fill="#356c96" opacity="1.00"/><rect x="386.20" y="223.20" width="1.3" height="1.2" fill="#356c96" opacity="1.00"/><rect x="362.80" y="226.00" width="1.3" height="1.2" fill="#356c96" opacity="1.00"/><rect x="365.40" y="226.00" width="1.3" height="1.2" fill="#356c96" opacity="1.00"/><rect x="368.00" y="226.00" width="1.3" height="1.2" fill="#356c96" opacity="1.00"/><rect x="373.20" y="226.00" width="1.3" height="1.2" fill="#356c96" opacity="1.00"/><rect x="375.80" y="226.00" width="1.3" height="1.2" fill="#356c96" opacity="1.00"/><rect x="383.60" y="226.00" width="1.3" height="1.2" fill="#356c96" opacity="1.00"/><rect x="388.80" y="226.00" width="1.3" height="1.2" fill="#356c96" opacity="1.00"/><rect x="362.80" y="228.80" width="1.3" height="1.2" fill="#356c96" opacity="1.00"/><rect x="381.00" y="228.80" width="1.3" height="1.2" fill="#356c96" opacity="1.00"/><rect x="386.20" y="228.80" width="1.3" height="1.2" fill="#356c96" opacity="1.00"/><rect x="362.80" y="231.60" width="1.3" height="1.2" fill="#356c96" opacity="1.00"/><rect x="365.40" y="231.60" width="1.3" height="1.2" fill="#356c96" opacity="1.00"/><rect x="375.80" y="231.60" width="1.3" height="1.2" fill="#356c96" opacity="1.00"/><rect x="383.60" y="231.60" width="1.3" height="1.2" fill="#356c96" opacity="1.00"/><rect x="388.80" y="231.60" width="1.3" height="1.2" fill="#356c96" opacity="1.00"/><rect x="368.00" y="234.40" width="1.3" height="1.2" fill="#356c96" opacity="1.00"/><rect x="381.00" y="234.40" width="6.50" height="1.2" fill="#356c96" opacity="1.00"/><rect x="391.40" y="234.40" width="1.3" height="1.2" fill="#356c96" opacity="1.00"/><rect x="362.80" y="237.20" width="9.10" height="1.2" fill="#356c96" opacity="1.00"/><rect x="375.80" y="237.20" width="1.3" height="1.2" fill="#356c96" opacity="1.00"/><rect x="381.00" y="237.20" width="1.3" height="1.2" fill="#356c96" opacity="1.00"/><rect x="386.20" y="237.20" width="1.3" height="1.2" fill="#356c96" opacity="1.00"/><rect x="388.80" y="237.20" width="1.3" height="1.2" fill="#356c96" opacity="1.00"/><rect x="368.00" y="240.00" width="1.3" height="1.2" fill="#356c96" opacity="1.00"/><rect x="373.20" y="240.00" width="1.3" height="1.2" fill="#356c96" opacity="1.00"/><rect x="383.60" y="240.00" width="3.90" height="1.2" fill="#356c96" opacity="1.00"/><rect x="362.80" y="242.80" width="9.10" height="1.2" fill="#356c96" opacity="1.00"/><rect x="373.20" y="242.80" width="1.3" height="1.2" fill="#356c96" opacity="1.00"/><rect x="375.80" y="242.80" width="1.3" height="1.2" fill="#356c96" opacity="1.00"/><rect x="386.20" y="242.80" width="6.50" height="1.2" fill="#356c96" opacity="1.00"/><rect x="362.80" y="245.60" width="1.3" height="1.2" fill="#356c96" opacity="1.00"/><rect x="365.40" y="245.60" width="1.3" height="1.2" fill="#356c96" opacity="1.00"/><rect x="370.60" y="245.60" width="1.3" height="1.2" fill="#356c96" opacity="1.00"/><rect x="373.20" y="245.60" width="6.50" height="1.2" fill="#356c96" opacity="1.00"/><rect x="386.20" y="245.60" width="1.3" height="1.2" fill="#356c96" opacity="1.00"/><rect x="388.80" y="245.60" width="1.3" height="1.2" fill="#356c96" opacity="1.00"/><rect x="365.40" y="248.40" width="1.3" height="1.2" fill="#356c96" opacity="1.00"/><rect x="370.60" y="248.40" width="1.3" height="1.2" fill="#356c96" opacity="1.00"/><rect x="375.80" y="248.40" width="1.3" height="1.2" fill="#356c96" opacity="1.00"/><rect x="378.40" y="248.40" width="1.3" height="1.2" fill="#356c96" opacity="1.00"/><rect x="383.60" y="248.40" width="1.3" height="1.2" fill="#356c96" opacity="1.00"/><rect x="388.80" y="248.40" width="1.3" height="1.2" fill="#356c96" opacity="1.00"/><rect x="391.40" y="248.40" width="1.3" height="1.2" fill="#356c96" opacity="1.00"/><rect x="362.80" y="251.20" width="6.50" height="1.2" fill="#356c96" opacity="1.00"/><rect x="370.60" y="251.20" width="1.3" height="1.2" fill="#356c96" opacity="1.00"/><rect x="373.20" y="251.20" width="1.3" height="1.2" fill="#356c96" opacity="1.00"/><rect x="375.80" y="251.20" width="1.3" height="1.2" fill="#356c96" opacity="1.00"/><rect x="381.00" y="251.20" width="1.3" height="1.2" fill="#356c96" opacity="1.00"/><rect x="386.20" y="251.20" width="1.3" height="1.2" fill="#356c96" opacity="1.00"/><rect x="388.80" y="251.20" width="1.3" height="1.2" fill="#356c96" opacity="1.00"/><rect x="391.40" y="251.20" width="1.3" height="1.2" fill="#356c96" opacity="1.00"/><rect x="365.40" y="254.00" width="3.90" height="1.2" fill="#356c96" opacity="1.00"/><rect x="370.60" y="254.00" width="1.3" height="1.2" fill="#356c96" opacity="1.00"/><rect x="373.20" y="254.00" width="1.3" height="1.2" fill="#356c96" opacity="1.00"/><rect x="381.00" y="254.00" width="1.3" height="1.2" fill="#356c96" opacity="1.00"/><rect x="386.20" y="254.00" width="1.3" height="1.2" fill="#356c96" opacity="1.00"/><rect x="388.80" y="254.00" width="1.3" height="1.2" fill="#356c96" opacity="1.00"/><rect x="362.80" y="256.80" width="1.3" height="1.2" fill="#356c96" opacity="1.00"/><rect x="365.40" y="256.80" width="1.3" height="1.2" fill="#356c96" opacity="1.00"/><rect x="368.00" y="256.80" width="1.3" height="1.2" fill="#356c96" opacity="1.00"/><rect x="373.20" y="256.80" width="9.10" height="1.2" fill="#356c96" opacity="1.00"/><rect x="386.20" y="256.80" width="1.3" height="1.2" fill="#356c96" opacity="1.00"/><rect x="391.40" y="256.80" width="1.3" height="1.2" fill="#356c96" opacity="1.00"/><rect x="368.00" y="259.60" width="1.3" height="1.2" fill="#356c96" opacity="1.00"/><rect x="370.60" y="259.60" width="9.10" height="1.2" fill="#356c96" opacity="1.00"/><rect x="381.00" y="259.60" width="3.90" height="1.2" fill="#356c96" opacity="1.00"/><rect x="386.20" y="259.60" width="1.3" height="1.2" fill="#356c96" opacity="1.00"/><rect x="388.80" y="259.60" width="1.3" height="1.2" fill="#356c96" opacity="1.00"/><rect x="391.40" y="259.60" width="1.3" height="1.2" fill="#356c96" opacity="1.00"/><rect x="362.80" y="262.40" width="6.50" height="1.2" fill="#356c96" opacity="1.00"/><rect x="370.60" y="262.40" width="1.3" height="1.2" fill="#356c96" opacity="1.00"/><rect x="375.80" y="262.40" width="1.3" height="1.2" fill="#356c96" opacity="1.00"/><rect x="362.80" y="265.20" width="1.3" height="1.2" fill="#356c96" opacity="0.97"/><rect x="373.20" y="265.20" width="1.3" height="1.2" fill="#356c96" opacity="0.97"/><rect x="386.20" y="265.20" width="1.3" height="1.2" fill="#356c96" opacity="0.97"/><rect x="388.80" y="265.20" width="1.3" height="1.2" fill="#356c96" opacity="0.97"/><rect x="391.40" y="265.20" width="1.3" height="1.2" fill="#356c96" opacity="0.97"/><rect x="373.20" y="268.00" width="1.3" height="1.2" fill="#356c96" opacity="0.94"/><rect x="386.20" y="268.00" width="1.3" height="1.2" fill="#356c96" opacity="0.94"/><rect x="370.60" y="270.80" width="1.3" height="1.2" fill="#356c96" opacity="0.92"/><rect x="391.40" y="270.80" width="1.3" height="1.2" fill="#356c96" opacity="0.92"/><rect x="381.00" y="273.60" width="1.3" height="1.2" fill="#356c96" opacity="0.89"/><rect x="378.40" y="276.40" width="1.3" height="1.2" fill="#356c96" opacity="0.87"/><rect x="388.80" y="276.40" width="1.3" height="1.2" fill="#356c96" opacity="0.87"/><rect x="365.40" y="279.20" width="9.10" height="1.2" fill="#356c96" opacity="0.84"/><rect x="375.80" y="279.20" width="1.3" height="1.2" fill="#356c96" opacity="0.84"/><rect x="381.00" y="279.20" width="1.3" height="1.2" fill="#356c96" opacity="0.84"/><rect x="383.60" y="279.20" width="1.3" height="1.2" fill="#356c96" opacity="0.84"/><rect x="386.20" y="279.20" width="1.3" height="1.2" fill="#356c96" opacity="0.84"/><rect x="365.40" y="282.00" width="1.3" height="1.2" fill="#356c96" opacity="0.81"/><rect x="368.00" y="282.00" width="1.3" height="1.2" fill="#356c96" opacity="0.81"/><rect x="373.20" y="282.00" width="1.3" height="1.2" fill="#356c96" opacity="0.81"/><rect x="378.40" y="282.00" width="1.3" height="1.2" fill="#356c96" opacity="0.81"/><rect x="381.00" y="282.00" width="1.3" height="1.2" fill="#356c96" opacity="0.81"/><rect x="388.80" y="282.00" width="1.3" height="1.2" fill="#356c96" opacity="0.81"/><rect x="365.40" y="284.80" width="1.3" height="1.2" fill="#356c96" opacity="0.79"/><rect x="368.00" y="284.80" width="1.3" height="1.2" fill="#356c96" opacity="0.79"/><rect x="370.60" y="284.80" width="1.3" height="1.2" fill="#356c96" opacity="0.79"/><rect x="375.80" y="284.80" width="1.3" height="1.2" fill="#356c96" opacity="0.79"/><rect x="381.00" y="284.80" width="1.3" height="1.2" fill="#356c96" opacity="0.79"/><rect x="391.40" y="284.80" width="1.3" height="1.2" fill="#356c96" opacity="0.79"/><rect x="362.80" y="290.40" width="1.3" height="1.2" fill="#356c96" opacity="0.74"/><rect x="375.80" y="290.40" width="1.3" height="1.2" fill="#356c96" opacity="0.74"/><rect x="378.40" y="290.40" width="1.3" height="1.2" fill="#356c96" opacity="0.74"/><rect x="381.00" y="290.40" width="1.3" height="1.2" fill="#356c96" opacity="0.74"/><rect x="362.80" y="293.20" width="1.3" height="1.2" fill="#356c96" opacity="0.71"/><rect x="381.00" y="293.20" width="1.3" height="1.2" fill="#356c96" opacity="0.71"/><rect x="388.80" y="293.20" width="1.3" height="1.2" fill="#356c96" opacity="0.71"/><rect x="370.60" y="296.00" width="6.50" height="1.2" fill="#356c96" opacity="0.69"/><rect x="388.80" y="296.00" width="1.3" height="1.2" fill="#356c96" opacity="0.69"/><rect x="368.00" y="298.80" width="6.50" height="1.2" fill="#356c96" opacity="0.66"/><rect x="383.60" y="298.80" width="1.3" height="1.2" fill="#356c96" opacity="0.66"/><rect x="362.80" y="301.60" width="9.10" height="1.2" fill="#356c96" opacity="0.63"/><rect x="373.20" y="304.40" width="1.3" height="1.2" fill="#356c96" opacity="0.61"/><rect x="365.40" y="307.20" width="1.3" height="1.2" fill="#356c96" opacity="0.58"/><rect x="391.40" y="307.20" width="1.3" height="1.2" fill="#356c96" opacity="0.58"/><rect x="394.5" y="214" width="4" height="100" fill="#cfe0ec" opacity="0.8"/><rect x="325.60" y="236.20" width="1.25" height="1.25" fill="#4a80a8" opacity="1.00"/><rect x="331.00" y="236.20" width="1.25" height="1.25" fill="#4a80a8" opacity="1.00"/><rect x="333.70" y="236.20" width="1.25" height="1.25" fill="#4a80a8" opacity="1.00"/><rect x="344.50" y="236.20" width="1.25" height="1.25" fill="#4a80a8" opacity="1.00"/><rect x="349.90" y="236.20" width="1.25" height="1.25" fill="#4a80a8" opacity="1.00"/><rect x="320.20" y="239.00" width="1.25" height="1.25" fill="#4a80a8" opacity="1.00"/><rect x="322.90" y="239.00" width="1.25" height="1.25" fill="#4a80a8" opacity="1.00"/><rect x="325.60" y="239.00" width="1.25" height="1.25" fill="#4a80a8" opacity="1.00"/><rect x="331.00" y="239.00" width="1.25" height="1.25" fill="#4a80a8" opacity="1.00"/><rect x="333.70" y="239.00" width="1.25" height="1.25" fill="#4a80a8" opacity="1.00"/><rect x="339.10" y="239.00" width="1.25" height="1.25" fill="#4a80a8" opacity="1.00"/><rect x="325.60" y="241.80" width="1.25" height="1.25" fill="#4a80a8" opacity="1.00"/><rect x="331.00" y="241.80" width="1.25" height="1.25" fill="#4a80a8" opacity="1.00"/><rect x="341.80" y="241.80" width="1.25" height="1.25" fill="#4a80a8" opacity="1.00"/><rect x="344.50" y="241.80" width="1.25" height="1.25" fill="#4a80a8" opacity="1.00"/><rect x="322.90" y="244.60" width="1.25" height="1.25" fill="#4a80a8" opacity="1.00"/><rect x="328.30" y="244.60" width="1.25" height="1.25" fill="#4a80a8" opacity="1.00"/><rect x="336.40" y="244.60" width="1.25" height="1.25" fill="#4a80a8" opacity="1.00"/><rect x="344.50" y="244.60" width="1.25" height="1.25" fill="#4a80a8" opacity="1.00"/><rect x="347.20" y="244.60" width="1.25" height="1.25" fill="#4a80a8" opacity="1.00"/><rect x="349.90" y="244.60" width="1.25" height="1.25" fill="#4a80a8" opacity="1.00"/><rect x="325.60" y="247.40" width="1.25" height="1.25" fill="#4a80a8" opacity="1.00"/><rect x="328.30" y="247.40" width="1.25" height="1.25" fill="#4a80a8" opacity="1.00"/><rect x="331.00" y="247.40" width="1.25" height="1.25" fill="#4a80a8" opacity="1.00"/><rect x="336.40" y="247.40" width="1.25" height="1.25" fill="#4a80a8" opacity="1.00"/><rect x="341.80" y="247.40" width="1.25" height="1.25" fill="#4a80a8" opacity="1.00"/><rect x="347.20" y="247.40" width="1.25" height="1.25" fill="#4a80a8" opacity="1.00"/><rect x="349.90" y="247.40" width="1.25" height="1.25" fill="#4a80a8" opacity="1.00"/><rect x="333.70" y="250.20" width="1.25" height="1.25" fill="#4a80a8" opacity="1.00"/><rect x="336.40" y="250.20" width="1.25" height="1.25" fill="#4a80a8" opacity="1.00"/><rect x="339.10" y="250.20" width="1.25" height="1.25" fill="#4a80a8" opacity="1.00"/><rect x="349.90" y="250.20" width="1.25" height="1.25" fill="#4a80a8" opacity="1.00"/><rect x="320.20" y="253.00" width="1.25" height="1.25" fill="#4a80a8" opacity="1.00"/><rect x="328.30" y="253.00" width="1.25" height="1.25" fill="#4a80a8" opacity="1.00"/><rect x="331.00" y="253.00" width="1.25" height="1.25" fill="#4a80a8" opacity="1.00"/><rect x="333.70" y="253.00" width="1.25" height="1.25" fill="#4a80a8" opacity="1.00"/><rect x="339.10" y="253.00" width="1.25" height="1.25" fill="#4a80a8" opacity="1.00"/><rect x="347.20" y="253.00" width="1.25" height="1.25" fill="#4a80a8" opacity="1.00"/><rect x="349.90" y="253.00" width="1.25" height="1.25" fill="#4a80a8" opacity="1.00"/><rect x="320.20" y="255.80" width="1.25" height="1.25" fill="#4a80a8" opacity="1.00"/><rect x="328.30" y="255.80" width="1.25" height="1.25" fill="#4a80a8" opacity="1.00"/><rect x="331.00" y="255.80" width="1.25" height="1.25" fill="#4a80a8" opacity="1.00"/><rect x="333.70" y="255.80" width="1.25" height="1.25" fill="#4a80a8" opacity="1.00"/><rect x="336.40" y="255.80" width="1.25" height="1.25" fill="#4a80a8" opacity="1.00"/><rect x="341.80" y="255.80" width="1.25" height="1.25" fill="#4a80a8" opacity="1.00"/><rect x="344.50" y="255.80" width="1.25" height="1.25" fill="#4a80a8" opacity="1.00"/><rect x="347.20" y="255.80" width="1.25" height="1.25" fill="#4a80a8" opacity="1.00"/><rect x="320.20" y="258.60" width="1.25" height="1.25" fill="#4a80a8" opacity="1.00"/><rect x="322.90" y="258.60" width="1.25" height="1.25" fill="#4a80a8" opacity="1.00"/><rect x="325.60" y="258.60" width="1.25" height="1.25" fill="#4a80a8" opacity="1.00"/><rect x="331.00" y="258.60" width="1.25" height="1.25" fill="#4a80a8" opacity="1.00"/><rect x="333.70" y="258.60" width="1.25" height="1.25" fill="#4a80a8" opacity="1.00"/><rect x="339.10" y="258.60" width="1.25" height="1.25" fill="#4a80a8" opacity="1.00"/><rect x="341.80" y="258.60" width="1.25" height="1.25" fill="#4a80a8" opacity="1.00"/><rect x="347.20" y="258.60" width="1.25" height="1.25" fill="#4a80a8" opacity="1.00"/><rect x="328.30" y="261.40" width="1.25" height="1.25" fill="#4a80a8" opacity="1.00"/><rect x="347.20" y="261.40" width="1.25" height="1.25" fill="#4a80a8" opacity="1.00"/><rect x="349.90" y="261.40" width="1.25" height="1.25" fill="#4a80a8" opacity="1.00"/><rect x="331.00" y="264.20" width="1.25" height="1.25" fill="#4a80a8" opacity="1.00"/><rect x="344.50" y="264.20" width="1.25" height="1.25" fill="#4a80a8" opacity="1.00"/><rect x="349.90" y="264.20" width="1.25" height="1.25" fill="#4a80a8" opacity="1.00"/><rect x="320.20" y="267.00" width="1.25" height="1.25" fill="#4a80a8" opacity="1.00"/><rect x="322.90" y="267.00" width="1.25" height="1.25" fill="#4a80a8" opacity="1.00"/><rect x="325.60" y="267.00" width="1.25" height="1.25" fill="#4a80a8" opacity="1.00"/><rect x="331.00" y="267.00" width="1.25" height="1.25" fill="#4a80a8" opacity="1.00"/><rect x="333.70" y="267.00" width="1.25" height="1.25" fill="#4a80a8" opacity="1.00"/><rect x="336.40" y="267.00" width="1.25" height="1.25" fill="#4a80a8" opacity="1.00"/><rect x="339.10" y="267.00" width="1.25" height="1.25" fill="#4a80a8" opacity="1.00"/><rect x="341.80" y="267.00" width="1.25" height="1.25" fill="#4a80a8" opacity="1.00"/><rect x="344.50" y="267.00" width="1.25" height="1.25" fill="#4a80a8" opacity="1.00"/><rect x="347.20" y="267.00" width="1.25" height="1.25" fill="#4a80a8" opacity="1.00"/><rect x="320.20" y="269.80" width="1.25" height="1.25" fill="#4a80a8" opacity="1.00"/><rect x="322.90" y="269.80" width="1.25" height="1.25" fill="#4a80a8" opacity="1.00"/><rect x="328.30" y="269.80" width="1.25" height="1.25" fill="#4a80a8" opacity="1.00"/><rect x="331.00" y="269.80" width="1.25" height="1.25" fill="#4a80a8" opacity="1.00"/><rect x="333.70" y="269.80" width="1.25" height="1.25" fill="#4a80a8" opacity="1.00"/><rect x="336.40" y="269.80" width="1.25" height="1.25" fill="#4a80a8" opacity="1.00"/><rect x="339.10" y="269.80" width="1.25" height="1.25" fill="#4a80a8" opacity="1.00"/><rect x="349.90" y="269.80" width="1.25" height="1.25" fill="#4a80a8" opacity="1.00"/><rect x="325.60" y="272.60" width="1.25" height="1.25" fill="#4a80a8" opacity="1.00"/><rect x="328.30" y="272.60" width="1.25" height="1.25" fill="#4a80a8" opacity="1.00"/><rect x="336.40" y="272.60" width="1.25" height="1.25" fill="#4a80a8" opacity="1.00"/><rect x="341.80" y="272.60" width="1.25" height="1.25" fill="#4a80a8" opacity="1.00"/><rect x="347.20" y="272.60" width="1.25" height="1.25" fill="#4a80a8" opacity="1.00"/><rect x="349.90" y="272.60" width="1.25" height="1.25" fill="#4a80a8" opacity="1.00"/><rect x="322.90" y="275.40" width="1.25" height="1.25" fill="#4a80a8" opacity="1.00"/><rect x="325.60" y="275.40" width="1.25" height="1.25" fill="#4a80a8" opacity="1.00"/><rect x="328.30" y="275.40" width="1.25" height="1.25" fill="#4a80a8" opacity="1.00"/><rect x="331.00" y="275.40" width="1.25" height="1.25" fill="#4a80a8" opacity="1.00"/><rect x="333.70" y="275.40" width="1.25" height="1.25" fill="#4a80a8" opacity="1.00"/><rect x="339.10" y="275.40" width="1.25" height="1.25" fill="#4a80a8" opacity="1.00"/><rect x="341.80" y="275.40" width="1.25" height="1.25" fill="#4a80a8" opacity="1.00"/><rect x="344.50" y="275.40" width="1.25" height="1.25" fill="#4a80a8" opacity="1.00"/><rect x="322.90" y="278.20" width="1.25" height="1.25" fill="#4a80a8" opacity="0.97"/><rect x="333.70" y="278.20" width="1.25" height="1.25" fill="#4a80a8" opacity="0.97"/><rect x="341.80" y="278.20" width="1.25" height="1.25" fill="#4a80a8" opacity="0.97"/><rect x="344.50" y="278.20" width="1.25" height="1.25" fill="#4a80a8" opacity="0.97"/><rect x="347.20" y="278.20" width="1.25" height="1.25" fill="#4a80a8" opacity="0.97"/><rect x="328.30" y="281.00" width="1.25" height="1.25" fill="#4a80a8" opacity="0.95"/><rect x="331.00" y="281.00" width="1.25" height="1.25" fill="#4a80a8" opacity="0.95"/><rect x="344.50" y="281.00" width="1.25" height="1.25" fill="#4a80a8" opacity="0.95"/><rect x="347.20" y="281.00" width="1.25" height="1.25" fill="#4a80a8" opacity="0.95"/><rect x="320.20" y="283.80" width="1.25" height="1.25" fill="#4a80a8" opacity="0.93"/><rect x="325.60" y="283.80" width="1.25" height="1.25" fill="#4a80a8" opacity="0.93"/><rect x="333.70" y="283.80" width="1.25" height="1.25" fill="#4a80a8" opacity="0.93"/><rect x="339.10" y="283.80" width="1.25" height="1.25" fill="#4a80a8" opacity="0.93"/><rect x="349.90" y="283.80" width="1.25" height="1.25" fill="#4a80a8" opacity="0.93"/><rect x="325.60" y="286.60" width="1.25" height="1.25" fill="#4a80a8" opacity="0.90"/><rect x="328.30" y="286.60" width="1.25" height="1.25" fill="#4a80a8" opacity="0.90"/><rect x="331.00" y="286.60" width="1.25" height="1.25" fill="#4a80a8" opacity="0.90"/><rect x="333.70" y="286.60" width="1.25" height="1.25" fill="#4a80a8" opacity="0.90"/><rect x="339.10" y="286.60" width="1.25" height="1.25" fill="#4a80a8" opacity="0.90"/><rect x="333.70" y="289.40" width="1.25" height="1.25" fill="#4a80a8" opacity="0.88"/><rect x="344.50" y="289.40" width="1.25" height="1.25" fill="#4a80a8" opacity="0.88"/><rect x="322.90" y="292.20" width="1.25" height="1.25" fill="#4a80a8" opacity="0.85"/><rect x="331.00" y="292.20" width="1.25" height="1.25" fill="#4a80a8" opacity="0.85"/><rect x="333.70" y="292.20" width="1.25" height="1.25" fill="#4a80a8" opacity="0.85"/><rect x="349.90" y="292.20" width="1.25" height="1.25" fill="#4a80a8" opacity="0.85"/><rect x="322.90" y="295.00" width="1.25" height="1.25" fill="#4a80a8" opacity="0.83"/><rect x="325.60" y="295.00" width="1.25" height="1.25" fill="#4a80a8" opacity="0.83"/><rect x="328.30" y="295.00" width="1.25" height="1.25" fill="#4a80a8" opacity="0.83"/><rect x="331.00" y="295.00" width="1.25" height="1.25" fill="#4a80a8" opacity="0.83"/><rect x="339.10" y="295.00" width="1.25" height="1.25" fill="#4a80a8" opacity="0.83"/><rect x="347.20" y="295.00" width="1.25" height="1.25" fill="#4a80a8" opacity="0.83"/><rect x="349.90" y="295.00" width="1.25" height="1.25" fill="#4a80a8" opacity="0.83"/><rect x="325.60" y="297.80" width="1.25" height="1.25" fill="#4a80a8" opacity="0.81"/><rect x="328.30" y="297.80" width="1.25" height="1.25" fill="#4a80a8" opacity="0.81"/><rect x="333.70" y="297.80" width="1.25" height="1.25" fill="#4a80a8" opacity="0.81"/><rect x="325.60" y="300.60" width="1.25" height="1.25" fill="#4a80a8" opacity="0.78"/><rect x="331.00" y="300.60" width="1.25" height="1.25" fill="#4a80a8" opacity="0.78"/><rect x="341.80" y="300.60" width="1.25" height="1.25" fill="#4a80a8" opacity="0.78"/><rect x="339.10" y="303.40" width="1.25" height="1.25" fill="#4a80a8" opacity="0.76"/><rect x="325.60" y="306.20" width="1.25" height="1.25" fill="#4a80a8" opacity="0.74"/><rect x="320.20" y="309.00" width="1.25" height="1.25" fill="#4a80a8" opacity="0.71"/><rect x="328.30" y="311.80" width="1.25" height="1.25" fill="#4a80a8" opacity="0.69"/><rect x="331.00" y="311.80" width="1.25" height="1.25" fill="#4a80a8" opacity="0.69"/><rect x="336.40" y="311.80" width="1.25" height="1.25" fill="#4a80a8" opacity="0.69"/><rect x="341.80" y="311.80" width="1.25" height="1.25" fill="#4a80a8" opacity="0.69"/><rect x="347.20" y="311.80" width="1.25" height="1.25" fill="#4a80a8" opacity="0.69"/><rect x="322.90" y="314.60" width="1.25" height="1.25" fill="#4a80a8" opacity="0.66"/><rect x="339.10" y="314.60" width="1.25" height="1.25" fill="#4a80a8" opacity="0.66"/><rect x="349.90" y="314.60" width="1.25" height="1.25" fill="#4a80a8" opacity="0.66"/><rect x="328.30" y="317.40" width="1.25" height="1.25" fill="#4a80a8" opacity="0.64"/><rect x="331.00" y="317.40" width="1.25" height="1.25" fill="#4a80a8" opacity="0.64"/><rect x="333.70" y="323.00" width="1.25" height="1.25" fill="#4a80a8" opacity="0.59"/><rect x="336.40" y="323.00" width="1.25" height="1.25" fill="#4a80a8" opacity="0.59"/><rect x="349.90" y="323.00" width="1.25" height="1.25" fill="#4a80a8" opacity="0.59"/><rect x="333.70" y="328.60" width="1.25" height="1.25" fill="#4a80a8" opacity="0.55"/><rect x="351.30" y="236.20" width="1.5" height="1.0" fill="#6d9cc0" opacity="0.95"/><rect x="353.20" y="243.00" width="1.5" height="1.0" fill="#6d9cc0" opacity="0.95"/><rect x="355.10" y="244.70" width="1.5" height="1.0" fill="#6d9cc0" opacity="0.95"/><rect x="353.20" y="246.40" width="1.5" height="1.0" fill="#6d9cc0" opacity="0.95"/><rect x="355.10" y="248.10" width="1.5" height="1.0" fill="#6d9cc0" opacity="0.95"/><rect x="353.20" y="249.80" width="1.5" height="1.0" fill="#6d9cc0" opacity="0.95"/><rect x="357.00" y="249.80" width="1.5" height="1.0" fill="#6d9cc0" opacity="0.95"/><rect x="353.20" y="251.50" width="1.5" height="1.0" fill="#6d9cc0" opacity="0.95"/><rect x="358.90" y="251.50" width="1.5" height="1.0" fill="#6d9cc0" opacity="0.95"/><rect x="351.30" y="253.20" width="1.5" height="1.0" fill="#6d9cc0" opacity="0.95"/><rect x="353.20" y="253.20" width="1.5" height="1.0" fill="#6d9cc0" opacity="0.95"/><rect x="355.10" y="254.90" width="1.5" height="1.0" fill="#6d9cc0" opacity="0.95"/><rect x="357.00" y="254.90" width="1.5" height="1.0" fill="#6d9cc0" opacity="0.95"/><rect x="351.30" y="256.60" width="1.5" height="1.0" fill="#6d9cc0" opacity="0.95"/><rect x="351.30" y="258.30" width="1.5" height="1.0" fill="#6d9cc0" opacity="0.95"/><rect x="353.20" y="258.30" width="1.5" height="1.0" fill="#6d9cc0" opacity="0.95"/><rect x="358.90" y="258.30" width="1.5" height="1.0" fill="#6d9cc0" opacity="0.95"/><rect x="351.30" y="260.00" width="1.5" height="1.0" fill="#6d9cc0" opacity="0.95"/><rect x="353.20" y="260.00" width="1.5" height="1.0" fill="#6d9cc0" opacity="0.95"/><rect x="355.10" y="260.00" width="1.5" height="1.0" fill="#6d9cc0" opacity="0.95"/><rect x="357.00" y="260.00" width="1.5" height="1.0" fill="#6d9cc0" opacity="0.95"/><rect x="353.20" y="261.70" width="1.5" height="1.0" fill="#6d9cc0" opacity="0.95"/><rect x="355.10" y="261.70" width="1.5" height="1.0" fill="#6d9cc0" opacity="0.95"/><rect x="357.00" y="261.70" width="1.5" height="1.0" fill="#6d9cc0" opacity="0.95"/><rect x="353.20" y="263.40" width="1.5" height="1.0" fill="#6d9cc0" opacity="0.95"/><rect x="355.10" y="263.40" width="1.5" height="1.0" fill="#6d9cc0" opacity="0.95"/><rect x="351.30" y="265.10" width="1.5" height="1.0" fill="#6d9cc0" opacity="0.95"/><rect x="355.10" y="265.10" width="1.5" height="1.0" fill="#6d9cc0" opacity="0.95"/><rect x="358.90" y="265.10" width="1.5" height="1.0" fill="#6d9cc0" opacity="0.95"/><rect x="351.30" y="266.80" width="1.5" height="1.0" fill="#6d9cc0" opacity="0.95"/><rect x="353.20" y="266.80" width="1.5" height="1.0" fill="#6d9cc0" opacity="0.95"/><rect x="355.10" y="266.80" width="1.5" height="1.0" fill="#6d9cc0" opacity="0.95"/><rect x="357.00" y="266.80" width="1.5" height="1.0" fill="#6d9cc0" opacity="0.95"/><rect x="358.90" y="266.80" width="1.5" height="1.0" fill="#6d9cc0" opacity="0.95"/><rect x="353.20" y="268.50" width="1.5" height="1.0" fill="#6d9cc0" opacity="0.95"/><rect x="355.10" y="268.50" width="1.5" height="1.0" fill="#6d9cc0" opacity="0.95"/><rect x="358.90" y="268.50" width="1.5" height="1.0" fill="#6d9cc0" opacity="0.95"/><rect x="351.30" y="270.20" width="1.5" height="1.0" fill="#6d9cc0" opacity="0.95"/><rect x="353.20" y="270.20" width="1.5" height="1.0" fill="#6d9cc0" opacity="0.95"/><rect x="357.00" y="270.20" width="1.5" height="1.0" fill="#6d9cc0" opacity="0.95"/><rect x="353.20" y="271.90" width="1.5" height="1.0" fill="#6d9cc0" opacity="0.95"/><rect x="355.10" y="271.90" width="1.5" height="1.0" fill="#6d9cc0" opacity="0.95"/><rect x="351.30" y="273.60" width="1.5" height="1.0" fill="#6d9cc0" opacity="0.95"/><rect x="353.20" y="273.60" width="1.5" height="1.0" fill="#6d9cc0" opacity="0.95"/><rect x="355.10" y="273.60" width="1.5" height="1.0" fill="#6d9cc0" opacity="0.95"/><rect x="357.00" y="273.60" width="1.5" height="1.0" fill="#6d9cc0" opacity="0.95"/><rect x="351.30" y="275.30" width="1.5" height="1.0" fill="#6d9cc0" opacity="0.90"/><rect x="353.20" y="275.30" width="1.5" height="1.0" fill="#6d9cc0" opacity="0.90"/><rect x="358.90" y="275.30" width="1.5" height="1.0" fill="#6d9cc0" opacity="0.90"/><rect x="351.30" y="277.00" width="1.5" height="1.0" fill="#6d9cc0" opacity="0.88"/><rect x="357.00" y="277.00" width="1.5" height="1.0" fill="#6d9cc0" opacity="0.88"/><rect x="353.20" y="278.70" width="1.5" height="1.0" fill="#6d9cc0" opacity="0.87"/><rect x="357.00" y="278.70" width="1.5" height="1.0" fill="#6d9cc0" opacity="0.87"/><rect x="358.90" y="278.70" width="1.5" height="1.0" fill="#6d9cc0" opacity="0.87"/><rect x="353.20" y="280.40" width="1.5" height="1.0" fill="#6d9cc0" opacity="0.85"/><rect x="353.20" y="282.10" width="1.5" height="1.0" fill="#6d9cc0" opacity="0.84"/><rect x="353.20" y="283.80" width="1.5" height="1.0" fill="#6d9cc0" opacity="0.83"/><rect x="353.20" y="287.20" width="1.5" height="1.0" fill="#6d9cc0" opacity="0.80"/><rect x="353.20" y="288.90" width="1.5" height="1.0" fill="#6d9cc0" opacity="0.78"/><rect x="355.10" y="288.90" width="1.5" height="1.0" fill="#6d9cc0" opacity="0.78"/><rect x="357.00" y="288.90" width="1.5" height="1.0" fill="#6d9cc0" opacity="0.78"/><rect x="351.30" y="290.60" width="1.5" height="1.0" fill="#6d9cc0" opacity="0.77"/><rect x="353.20" y="290.60" width="1.5" height="1.0" fill="#6d9cc0" opacity="0.77"/><rect x="358.90" y="290.60" width="1.5" height="1.0" fill="#6d9cc0" opacity="0.77"/><rect x="357.00" y="292.30" width="1.5" height="1.0" fill="#6d9cc0" opacity="0.75"/><rect x="351.30" y="295.70" width="1.5" height="1.0" fill="#6d9cc0" opacity="0.72"/><rect x="357.00" y="295.70" width="1.5" height="1.0" fill="#6d9cc0" opacity="0.72"/><rect x="351.30" y="297.40" width="1.5" height="1.0" fill="#6d9cc0" opacity="0.71"/><rect x="353.20" y="297.40" width="1.5" height="1.0" fill="#6d9cc0" opacity="0.71"/><rect x="357.00" y="297.40" width="1.5" height="1.0" fill="#6d9cc0" opacity="0.71"/><rect x="357.00" y="299.10" width="1.5" height="1.0" fill="#6d9cc0" opacity="0.70"/><rect x="357.00" y="300.80" width="1.5" height="1.0" fill="#6d9cc0" opacity="0.68"/><rect x="358.90" y="300.80" width="1.5" height="1.0" fill="#6d9cc0" opacity="0.68"/><rect x="351.30" y="302.50" width="1.5" height="1.0" fill="#6d9cc0" opacity="0.67"/><rect x="357.00" y="304.20" width="1.5" height="1.0" fill="#6d9cc0" opacity="0.65"/><rect x="353.20" y="305.90" width="1.5" height="1.0" fill="#6d9cc0" opacity="0.64"/><rect x="355.10" y="311.00" width="1.5" height="1.0" fill="#6d9cc0" opacity="0.59"/><rect x="351.30" y="312.70" width="1.5" height="1.0" fill="#6d9cc0" opacity="0.58"/><rect x="355.10" y="312.70" width="1.5" height="1.0" fill="#6d9cc0" opacity="0.58"/><rect x="358.90" y="312.70" width="1.5" height="1.0" fill="#6d9cc0" opacity="0.58"/><rect x="358.90" y="316.10" width="1.5" height="1.0" fill="#6d9cc0" opacity="0.55"/><rect x="355.10" y="317.80" width="1.5" height="1.0" fill="#6d9cc0" opacity="0.54"/><rect x="357.00" y="317.80" width="1.5" height="1.0" fill="#6d9cc0" opacity="0.54"/><rect x="355.10" y="321.20" width="1.5" height="1.0" fill="#6d9cc0" opacity="0.51"/><rect x="358.90" y="321.20" width="1.5" height="1.0" fill="#6d9cc0" opacity="0.51"/><rect x="358.90" y="326.30" width="1.5" height="1.0" fill="#6d9cc0" opacity="0.47"/><path d="M277.9 141.05 H296.2 Q299.2 141.05 299.2 144.05" stroke="#bdbdbd" stroke-width="0.8" fill="none"/><path d="M277.9 159.3 H296.2 Q299.2 159.3 299.2 162.3" stroke="#bdbdbd" stroke-width="0.8" fill="none"/><path d="M277.9 177.65 H296.2 Q299.2 177.65 299.2 180.65" stroke="#bdbdbd" stroke-width="0.8" fill="none"/><path d="M277.9 196.0 H296.2 Q299.2 196.0 299.2 193.0" stroke="#bdbdbd" stroke-width="0.8" fill="none"/><path d="M277.9 214.35 H296.2 Q299.2 214.35 299.2 211.35" stroke="#bdbdbd" stroke-width="0.8" fill="none"/><path d="M277.9 232.64999999999998 H296.2 Q299.2 232.64999999999998 299.2 229.64999999999998" stroke="#bdbdbd" stroke-width="0.8" fill="none"/><path d="M299.2 144.05 V229.64999999999998" stroke="#bdbdbd" stroke-width="0.8" fill="none"/><path d="M299.2 186.7 H312.9" stroke="#bdbdbd" stroke-width="0.8" fill="none"/><path d="M280.6 261.75 H297.2 Q300.2 261.75 300.2 264.75" stroke="#bdbdbd" stroke-width="0.8" fill="none"/><path d="M280.6 279.65 H297.2 Q300.2 279.65 300.2 282.65" stroke="#bdbdbd" stroke-width="0.8" fill="none"/><path d="M280.6 298.25 H297.2 Q300.2 298.25 300.2 301.25" stroke="#bdbdbd" stroke-width="0.8" fill="none"/><path d="M280.6 316.54999999999995 H297.2 Q300.2 316.54999999999995 300.2 313.54999999999995" stroke="#bdbdbd" stroke-width="0.8" fill="none"/><path d="M280.6 334.8 H297.2 Q300.2 334.8 300.2 331.8" stroke="#bdbdbd" stroke-width="0.8" fill="none"/><path d="M280.6 353.2 H297.2 Q300.2 353.2 300.2 350.2" stroke="#bdbdbd" stroke-width="0.8" fill="none"/><path d="M300.2 264.75 V350.2" stroke="#bdbdbd" stroke-width="0.8" fill="none"/><path d="M300.2 307.5 H313.5" stroke="#bdbdbd" stroke-width="0.8" fill="none"/><path d="M616.2 136.55 H609.5 Q606.5 136.55 606.5 139.55" stroke="#bdbdbd" stroke-width="0.8" fill="none"/><path d="M616.2 154.6 H609.5 Q606.5 154.6 606.5 157.6" stroke="#bdbdbd" stroke-width="0.8" fill="none"/><path d="M616.2 173.15 H609.5 Q606.5 173.15 606.5 170.15" stroke="#bdbdbd" stroke-width="0.8" fill="none"/><path d="M616.2 191.65 H609.5 Q606.5 191.65 606.5 188.65" stroke="#bdbdbd" stroke-width="0.8" fill="none"/><path d="M606.5 139.55 V188.65" stroke="#bdbdbd" stroke-width="0.8" fill="none"/><path d="M606.5 164.0 H592.2" stroke="#bdbdbd" stroke-width="0.8" fill="none"/><path d="M615.7 224.45 H609.3 Q606.3 224.45 606.3 227.45" stroke="#bdbdbd" stroke-width="0.8" fill="none"/><path d="M615.7 244.5 H606.3" stroke="#bdbdbd" stroke-width="0.8" fill="none"/><path d="M615.7 264.5 H609.3 Q606.3 264.5 606.3 261.5" stroke="#bdbdbd" stroke-width="0.8" fill="none"/><path d="M606.3 227.45 V261.5" stroke="#bdbdbd" stroke-width="0.8" fill="none"/><path d="M606.3 244.3 H591.7" stroke="#bdbdbd" stroke-width="0.8" fill="none"/><path d="M615.7 292.75 H609.3 Q606.3 292.75 606.3 295.75" stroke="#bdbdbd" stroke-width="0.8" fill="none"/><path d="M615.7 311.4 H609.3 Q606.3 311.4 606.3 314.4" stroke="#bdbdbd" stroke-width="0.8" fill="none"/><path d="M615.7 329.7 H609.3 Q606.3 329.7 606.3 326.7" stroke="#bdbdbd" stroke-width="0.8" fill="none"/><path d="M615.7 347.95000000000005 H609.3 Q606.3 347.95000000000005 606.3 344.95000000000005" stroke="#bdbdbd" stroke-width="0.8" fill="none"/><path d="M606.3 295.75 V344.95000000000005" stroke="#bdbdbd" stroke-width="0.8" fill="none"/><path d="M606.3 320.4 H591.2" stroke="#bdbdbd" stroke-width="0.8" fill="none"/><path d="M386.3 186.6 H394.4" stroke="#f9b955" stroke-width="1"/><circle cx="394.4" cy="186.6" r="2.2" fill="#f9b955"/><path d="M386.9 308 H414.2" stroke="#8ec4ec" stroke-width="1"/><circle cx="414.2" cy="308" r="2.2" fill="#5eaee8"/><path d="M469.9 164.3 H518.6" stroke="#a6c9c9" stroke-width="1"/><circle cx="469.9" cy="164.2" r="2.2" fill="#1e9298"/><path d="M476.2 244.3 H517.8" stroke="#7ecbbd" stroke-width="1"/><circle cx="476.2" cy="244.3" r="2.2" fill="#3dbba6"/><path d="M448.4 304.3 V319.2 Q448.4 322.3 451.5 322.3 H517.8" stroke="#f0958c" stroke-width="1" fill="none"/><circle cx="448.4" cy="304.3" r="2.2" fill="#f06b5e"/></svg>
<div class="box bl" style="left:225.7px;top:134.3px;width:52.2px;height:13.5px;line-height:13.5px">运营成本比例</div>
<div class="box bl" style="left:240.9px;top:152.6px;width:37.0px;height:13.4px;line-height:13.4px">资产原值</div>
<div class="box bl" style="left:240.9px;top:171.0px;width:37.0px;height:13.3px;line-height:13.3px">资产净值</div>
<div class="box bl" style="left:212.7px;top:189.1px;width:65.2px;height:13.8px;line-height:13.8px">运维检修成本总额</div>
<div class="box bl" style="left:197.7px;top:207.5px;width:80.2px;height:13.7px;line-height:13.7px">单位资产运维检修成本</div>
<div class="box bl" style="left:155.0px;top:225.7px;width:122.9px;height:13.9px;line-height:13.9px">单位售电量（输电量）运维检修成本</div>
<div class="box bl" style="left:250.4px;top:255.1px;width:30.2px;height:13.3px;line-height:13.3px">跳闸率</div>
<div class="box bl" style="left:243.5px;top:273.0px;width:37.1px;height:13.3px;line-height:13.3px">可用系数</div>
<div class="box bl" style="left:250.4px;top:291.5px;width:30.2px;height:13.5px;line-height:13.5px">缺陷率</div>
<div class="box bl" style="left:228.5px;top:309.7px;width:52.1px;height:13.7px;line-height:13.7px">设备状态评价</div>
<div class="box bl" style="left:237.0px;top:328.0px;width:43.6px;height:13.6px;line-height:13.6px">供电可靠率</div>
<div class="box bl" style="left:228.5px;top:346.4px;width:52.1px;height:13.6px;line-height:13.6px">安全成效趋势</div>
<div class="box br" style="left:616.2px;top:130.0px;width:57.5px;height:13.1px;line-height:13.1px">单人运维资产量</div>
<div class="box br" style="left:616.2px;top:148.0px;width:65.4px;height:13.2px;line-height:13.2px">单人运维线路长度</div>
<div class="box br" style="left:616.2px;top:166.5px;width:65.4px;height:13.3px;line-height:13.3px">单人运维变电容量</div>
<div class="box br" style="left:616.2px;top:185.0px;width:51.2px;height:13.3px;line-height:13.3px">故障修复时间</div>
<div class="box br" style="left:615.7px;top:217.8px;width:30.0px;height:13.3px;line-height:13.3px">售电量</div>
<div class="box br" style="left:615.7px;top:237.8px;width:30.0px;height:13.4px;line-height:13.4px">线损率</div>
<div class="box br" style="left:615.7px;top:257.8px;width:30.0px;height:13.4px;line-height:13.4px">容载比</div>
<div class="box br" style="left:615.7px;top:286.1px;width:44.5px;height:13.3px;line-height:13.3px">资产成新率</div>
<div class="box br" style="left:615.7px;top:304.5px;width:44.5px;height:13.8px;line-height:13.8px">资产增长率</div>
<div class="box br" style="left:615.7px;top:323.0px;width:50.7px;height:13.4px;line-height:13.4px">逾龄资产占比</div>
<div class="box br" style="left:615.7px;top:341.3px;width:50.7px;height:13.3px;line-height:13.3px">重点成本投入</div>
<div class="a" style="left:312.9px;top:175.8px;width:73.4px;height:21.7px;background:#f9b955;border-radius:10.8px"></div>
<div class="t" style="left:326.5px;top:182.8px;font-size:8.5px;line-height:10.20px;color:#fff;font-weight:normal;-webkit-text-stroke:0.3px #fff;">成本指标</div>
<svg class="a" style="left:368.0px;top:179.7px" width="14" height="14" viewBox="0 0 14 14"><circle cx="7" cy="7" r="7" fill="#fff"/><rect x="3.7" y="7.4" width="1.7" height="3.5" fill="#f9b955"/><rect x="6.2" y="6.0" width="1.8" height="4.9" fill="#f9b955"/><rect x="8.8" y="4.4" width="2.1" height="6.5" fill="#f9b955"/><path d="M3.4 6.4 L9.6 3.6" stroke="#f9b955" stroke-width="0.8" fill="none"/><path d="M9.0 2.7 L11.1 2.9 L10.2 4.6 Z" fill="#f9b955"/></svg>
<div class="a" style="left:313.5px;top:296.9px;width:73.4px;height:21.0px;background:#5eaee8;border-radius:10.5px"></div>
<div class="t" style="left:322.4px;top:303.5px;font-size:8.5px;line-height:10.20px;color:#fff;font-weight:normal;-webkit-text-stroke:0.3px #fff;">安全类指标</div>
<svg class="a" style="left:368.6px;top:300.5px" width="14" height="14" viewBox="0 0 14 14"><circle cx="7" cy="7" r="7" fill="#fff"/><rect x="3.7" y="7.4" width="1.7" height="3.5" fill="#5eaee8"/><rect x="6.2" y="6.0" width="1.8" height="4.9" fill="#5eaee8"/><rect x="8.8" y="4.4" width="2.1" height="6.5" fill="#5eaee8"/><path d="M3.4 6.4 L9.6 3.6" stroke="#5eaee8" stroke-width="0.8" fill="none"/><path d="M9.0 2.7 L11.1 2.9 L10.2 4.6 Z" fill="#5eaee8"/></svg>
<div class="a" style="left:518.6px;top:153.3px;width:73.6px;height:21.4px;background:#1e9298;border-radius:10.7px"></div>
<div class="t" style="left:546.0px;top:160.1px;font-size:8.5px;line-height:10.20px;color:#fff;font-weight:normal;-webkit-text-stroke:0.3px #fff;">效率指标</div>
<svg class="a" style="left:523.5px;top:157.0px" width="14" height="14" viewBox="0 0 14 14"><circle cx="7" cy="7" r="7" fill="#fff"/><rect x="3.7" y="7.4" width="1.7" height="3.5" fill="#1e9298"/><rect x="6.2" y="6.0" width="1.8" height="4.9" fill="#1e9298"/><rect x="8.8" y="4.4" width="2.1" height="6.5" fill="#1e9298"/><path d="M3.4 6.4 L9.6 3.6" stroke="#1e9298" stroke-width="0.8" fill="none"/><path d="M9.0 2.7 L11.1 2.9 L10.2 4.6 Z" fill="#1e9298"/></svg>
<div class="a" style="left:517.8px;top:234px;width:73.9px;height:20.5px;background:#3dbba6;border-radius:10.2px"></div>
<div class="t" style="left:541.0px;top:240.3px;font-size:8.5px;line-height:10.20px;color:#fff;font-weight:normal;-webkit-text-stroke:0.3px #fff;">效益类指标</div>
<svg class="a" style="left:523.0px;top:237.3px" width="14" height="14" viewBox="0 0 14 14"><circle cx="7" cy="7" r="7" fill="#fff"/><rect x="3.7" y="7.4" width="1.7" height="3.5" fill="#3dbba6"/><rect x="6.2" y="6.0" width="1.8" height="4.9" fill="#3dbba6"/><rect x="8.8" y="4.4" width="2.1" height="6.5" fill="#3dbba6"/><path d="M3.4 6.4 L9.6 3.6" stroke="#3dbba6" stroke-width="0.8" fill="none"/><path d="M9.0 2.7 L11.1 2.9 L10.2 4.6 Z" fill="#3dbba6"/></svg>
<div class="a" style="left:517.8px;top:310.1px;width:73.4px;height:20.7px;background:#f06b5e;border-radius:10.3px"></div>
<div class="t" style="left:541.0px;top:316.6px;font-size:8.5px;line-height:10.20px;color:#fff;font-weight:normal;-webkit-text-stroke:0.3px #fff;">资产类指标</div>
<svg class="a" style="left:523.0px;top:313.4px" width="14" height="14" viewBox="0 0 14 14"><circle cx="7" cy="7" r="7" fill="#fff"/><rect x="3.7" y="7.4" width="1.7" height="3.5" fill="#f06b5e"/><rect x="6.2" y="6.0" width="1.8" height="4.9" fill="#f06b5e"/><rect x="8.8" y="4.4" width="2.1" height="6.5" fill="#f06b5e"/><path d="M3.4 6.4 L9.6 3.6" stroke="#f06b5e" stroke-width="0.8" fill="none"/><path d="M9.0 2.7 L11.1 2.9 L10.2 4.6 Z" fill="#f06b5e"/></svg>
<div class="t" style="left:234.0px;width:400px;text-align:center;top:283.0px;font-size:10.0px;line-height:12.00px;color:#555;font-weight:bold;">南京供电局</div>
<svg class="a" style="left:0;top:0" width="1215" height="674" viewBox="0 0 1215 674"><polygon points="875.3,150.5 969.8,221.4 938.0,335.7 818.0,335.7 781.1,221.4" fill="#fafafa" stroke="#ebebeb" stroke-width="0.9"/><line x1="875.5" y1="252.9" x2="875.3" y2="150.5" stroke="#efefef" stroke-width="0.8"/><line x1="875.5" y1="252.9" x2="969.8" y2="221.4" stroke="#efefef" stroke-width="0.8"/><line x1="875.5" y1="252.9" x2="938" y2="335.7" stroke="#efefef" stroke-width="0.8"/><line x1="875.5" y1="252.9" x2="818" y2="335.7" stroke="#efefef" stroke-width="0.8"/><line x1="875.5" y1="252.9" x2="781.1" y2="221.4" stroke="#efefef" stroke-width="0.8"/><polygon points="875.3,193.4 944.2,226.2 920.3,308.7 840.5,297.8 826.5,229.6" fill="#a8dcda"/><polygon points="874.9,177.4 954.4,222.8 924.4,314.9 835.7,307.7 820.0,231.0" fill="none" stroke="#3d9595" stroke-width="0.7" stroke-dasharray="2.4 1.6"/><circle cx="874.9" cy="177.4" r="2.3" fill="#137675"/><circle cx="954.4" cy="222.8" r="2.3" fill="#137675"/><circle cx="924.4" cy="314.9" r="2.3" fill="#137675"/><circle cx="835.7" cy="307.7" r="2.3" fill="#137675"/><circle cx="820" cy="231" r="2.3" fill="#137675"/><polygon points="878.0,218.3 918.3,232.3 902.6,285.2 870.5,250.7 835.7,233.7" fill="none" stroke="#c06a60" stroke-width="0.8" stroke-dasharray="2 1.5"/><circle cx="878" cy="218.3" r="2.3" fill="#c0675c"/><circle cx="918.3" cy="232.3" r="2.3" fill="#c0675c"/><circle cx="902.6" cy="285.2" r="2.3" fill="#c0675c"/><circle cx="870.5" cy="250.7" r="2.3" fill="#c0675c"/><circle cx="835.7" cy="233.7" r="2.3" fill="#c0675c"/><circle cx="938" cy="132.8" r="2.9" fill="#3a9ea5"/><circle cx="976.4" cy="132.8" r="2.9" fill="#f7b860"/><circle cx="1014.7" cy="132.8" r="2.9" fill="#8fd0cc"/><clipPath id="gc0"><circle cx="239.6" cy="476.0" r="48.4"/></clipPath><g clip-path="url(#gc0)"><path d="M188.6,476.98 L190.1,476.46 L191.6,475.93 L193.1,475.40 L194.6,474.88 L196.1,474.36 L197.6,473.87 L199.1,473.39 L200.6,472.94 L202.1,472.52 L203.6,472.13 L205.1,471.78 L206.6,471.47 L208.1,471.20 L209.6,470.98 L211.1,470.81 L212.6,470.69 L214.1,470.62 L215.6,470.60 L217.1,470.63 L218.6,470.72 L220.1,470.85 L221.6,471.04 L223.1,471.27 L224.6,471.55 L226.1,471.87 L227.6,472.23 L229.1,472.63 L230.6,473.06 L232.1,473.52 L233.6,474.00 L235.1,474.50 L236.6,475.02 L238.1,475.54 L239.6,476.07 L241.1,476.60 L242.6,477.12 L244.1,477.64 L245.6,478.13 L247.1,478.61 L248.6,479.06 L250.1,479.48 L251.6,479.87 L253.1,480.22 L254.6,480.53 L256.1,480.80 L257.6,481.02 L259.1,481.19 L260.6,481.31 L262.1,481.38 L263.6,481.40 L265.1,481.37 L266.6,481.28 L268.1,481.15 L269.6,480.96 L271.1,480.73 L272.6,480.45 L274.1,480.13 L275.6,479.77 L277.1,479.37 L278.6,478.94 L280.1,478.48 L281.6,478.00 L283.1,477.50 L284.6,476.98 L286.1,476.46 L287.6,475.93 L289.1,475.40 L290.6,474.88 L290.6,527.0 L188.6,527.0 Z" fill="#8fcfca"/><path d="M188.6,477.49 L190.1,477.88 L191.6,478.25 L193.1,478.61 L194.6,478.96 L196.1,479.28 L197.6,479.59 L199.1,479.88 L200.6,480.14 L202.1,480.38 L203.6,480.59 L205.1,480.78 L206.6,480.94 L208.1,481.07 L209.6,481.17 L211.1,481.24 L212.6,481.29 L214.1,481.30 L215.6,481.28 L217.1,481.24 L218.6,481.16 L220.1,481.05 L221.6,480.92 L223.1,480.76 L224.6,480.56 L226.1,480.35 L227.6,480.11 L229.1,479.84 L230.6,479.55 L232.1,479.24 L233.6,478.91 L235.1,478.57 L236.6,478.20 L238.1,477.83 L239.6,477.44 L241.1,477.04 L242.6,476.63 L244.1,476.21 L245.6,475.79 L247.1,475.37 L248.6,474.95 L250.1,474.53 L251.6,474.12 L253.1,473.71 L254.6,473.31 L256.1,472.92 L257.6,472.55 L259.1,472.19 L260.6,471.84 L262.1,471.52 L263.6,471.21 L265.1,470.92 L266.6,470.66 L268.1,470.42 L269.6,470.21 L271.1,470.02 L272.6,469.86 L274.1,469.73 L275.6,469.63 L277.1,469.56 L278.6,469.51 L280.1,469.50 L281.6,469.52 L283.1,469.56 L284.6,469.64 L286.1,469.75 L287.6,469.88 L289.1,470.04 L290.6,470.24 L290.6,527.0 L188.6,527.0 Z" fill="#4eb1aa"/></g><circle cx="239.6" cy="476.0" r="48.4" fill="none" stroke="#2e9a95" stroke-width="1.4"/><clipPath id="gc1"><circle cx="414.6" cy="475.6" r="48.4"/></clipPath><g clip-path="url(#gc1)"><path d="M363.6,473.18 L365.1,472.66 L366.6,472.13 L368.1,471.60 L369.6,471.08 L371.1,470.56 L372.6,470.07 L374.1,469.59 L375.6,469.14 L377.1,468.72 L378.6,468.33 L380.1,467.98 L381.6,467.67 L383.1,467.40 L384.6,467.18 L386.1,467.01 L387.6,466.89 L389.1,466.82 L390.6,466.80 L392.1,466.83 L393.6,466.92 L395.1,467.05 L396.6,467.24 L398.1,467.47 L399.6,467.75 L401.1,468.07 L402.6,468.43 L404.1,468.83 L405.6,469.26 L407.1,469.72 L408.6,470.20 L410.1,470.70 L411.6,471.22 L413.1,471.74 L414.6,472.27 L416.1,472.80 L417.6,473.32 L419.1,473.84 L420.6,474.33 L422.1,474.81 L423.6,475.26 L425.1,475.68 L426.6,476.07 L428.1,476.42 L429.6,476.73 L431.1,477.00 L432.6,477.22 L434.1,477.39 L435.6,477.51 L437.1,477.58 L438.6,477.60 L440.1,477.57 L441.6,477.48 L443.1,477.35 L444.6,477.16 L446.1,476.93 L447.6,476.65 L449.1,476.33 L450.6,475.97 L452.1,475.57 L453.6,475.14 L455.1,474.68 L456.6,474.20 L458.1,473.70 L459.6,473.18 L461.1,472.66 L462.6,472.13 L464.1,471.60 L465.6,471.08 L465.6,526.6 L363.6,526.6 Z" fill="#8fcfca"/><path d="M363.6,473.69 L365.1,474.08 L366.6,474.45 L368.1,474.81 L369.6,475.16 L371.1,475.48 L372.6,475.79 L374.1,476.08 L375.6,476.34 L377.1,476.58 L378.6,476.79 L380.1,476.98 L381.6,477.14 L383.1,477.27 L384.6,477.37 L386.1,477.44 L387.6,477.49 L389.1,477.50 L390.6,477.48 L392.1,477.44 L393.6,477.36 L395.1,477.25 L396.6,477.12 L398.1,476.96 L399.6,476.76 L401.1,476.55 L402.6,476.31 L404.1,476.04 L405.6,475.75 L407.1,475.44 L408.6,475.11 L410.1,474.77 L411.6,474.40 L413.1,474.03 L414.6,473.64 L416.1,473.24 L417.6,472.83 L419.1,472.41 L420.6,471.99 L422.1,471.57 L423.6,471.15 L425.1,470.73 L426.6,470.32 L428.1,469.91 L429.6,469.51 L431.1,469.12 L432.6,468.75 L434.1,468.39 L435.6,468.04 L437.1,467.72 L438.6,467.41 L440.1,467.12 L441.6,466.86 L443.1,466.62 L444.6,466.41 L446.1,466.22 L447.6,466.06 L449.1,465.93 L450.6,465.83 L452.1,465.76 L453.6,465.71 L455.1,465.70 L456.6,465.72 L458.1,465.76 L459.6,465.84 L461.1,465.95 L462.6,466.08 L464.1,466.24 L465.6,466.44 L465.6,526.6 L363.6,526.6 Z" fill="#4eb1aa"/></g><circle cx="414.6" cy="475.6" r="48.4" fill="none" stroke="#2e9a95" stroke-width="1.4"/><clipPath id="gc2"><circle cx="590.2" cy="475.6" r="47.9"/></clipPath><g clip-path="url(#gc2)"><path d="M539.7,466.31 L541.2,465.78 L542.7,465.25 L544.2,464.73 L545.7,464.21 L547.2,463.70 L548.7,463.21 L550.2,462.74 L551.7,462.30 L553.2,461.89 L554.7,461.51 L556.2,461.17 L557.7,460.88 L559.2,460.63 L560.7,460.42 L562.2,460.27 L563.7,460.16 L565.2,460.11 L566.7,460.11 L568.2,460.16 L569.7,460.26 L571.2,460.41 L572.7,460.61 L574.2,460.86 L575.7,461.15 L577.2,461.49 L578.7,461.86 L580.2,462.27 L581.7,462.71 L583.2,463.18 L584.7,463.66 L586.2,464.17 L587.7,464.69 L589.2,465.22 L590.7,465.75 L592.2,466.27 L593.7,466.79 L595.2,467.30 L596.7,467.79 L598.2,468.26 L599.7,468.70 L601.2,469.11 L602.7,469.49 L604.2,469.83 L605.7,470.12 L607.2,470.37 L608.7,470.58 L610.2,470.73 L611.7,470.84 L613.2,470.89 L614.7,470.89 L616.2,470.84 L617.7,470.74 L619.2,470.59 L620.7,470.39 L622.2,470.14 L623.7,469.85 L625.2,469.51 L626.7,469.14 L628.2,468.73 L629.7,468.29 L631.2,467.82 L632.7,467.34 L634.2,466.83 L635.7,466.31 L637.2,465.78 L638.7,465.25 L640.2,464.73 L640.7,526.1 L539.7,526.1 Z" fill="#8fcfca"/><path d="M539.7,467.12 L541.2,467.50 L542.7,467.87 L544.2,468.23 L545.7,468.57 L547.2,468.89 L548.7,469.19 L550.2,469.47 L551.7,469.72 L553.2,469.95 L554.7,470.16 L556.2,470.33 L557.7,470.48 L559.2,470.61 L560.7,470.70 L562.2,470.76 L563.7,470.79 L565.2,470.80 L566.7,470.77 L568.2,470.71 L569.7,470.63 L571.2,470.51 L572.7,470.37 L574.2,470.19 L575.7,470.00 L577.2,469.77 L578.7,469.52 L580.2,469.25 L581.7,468.95 L583.2,468.63 L584.7,468.30 L586.2,467.95 L587.7,467.58 L589.2,467.20 L590.7,466.80 L592.2,466.40 L593.7,465.99 L595.2,465.57 L596.7,465.15 L598.2,464.73 L599.7,464.31 L601.2,463.89 L602.7,463.48 L604.2,463.08 L605.7,462.68 L607.2,462.30 L608.7,461.93 L610.2,461.57 L611.7,461.23 L613.2,460.91 L614.7,460.61 L616.2,460.33 L617.7,460.08 L619.2,459.85 L620.7,459.64 L622.2,459.47 L623.7,459.32 L625.2,459.19 L626.7,459.10 L628.2,459.04 L629.7,459.01 L631.2,459.00 L632.7,459.03 L634.2,459.09 L635.7,459.17 L637.2,459.29 L638.7,459.43 L640.2,459.61 L640.7,526.1 L539.7,526.1 Z" fill="#4eb1aa"/></g><circle cx="590.2" cy="475.6" r="47.9" fill="none" stroke="#2e9a95" stroke-width="1.4"/><clipPath id="gc3"><circle cx="765.4" cy="475.9" r="48.4"/></clipPath><g clip-path="url(#gc3)"><path d="M714.4,486.28 L715.9,485.76 L717.4,485.23 L718.9,484.70 L720.4,484.18 L721.9,483.66 L723.4,483.17 L724.9,482.69 L726.4,482.24 L727.9,481.82 L729.4,481.43 L730.9,481.08 L732.4,480.77 L733.9,480.50 L735.4,480.28 L736.9,480.11 L738.4,479.99 L739.9,479.92 L741.4,479.90 L742.9,479.93 L744.4,480.02 L745.9,480.15 L747.4,480.34 L748.9,480.57 L750.4,480.85 L751.9,481.17 L753.4,481.53 L754.9,481.93 L756.4,482.36 L757.9,482.82 L759.4,483.30 L760.9,483.80 L762.4,484.32 L763.9,484.84 L765.4,485.37 L766.9,485.90 L768.4,486.42 L769.9,486.94 L771.4,487.43 L772.9,487.91 L774.4,488.36 L775.9,488.78 L777.4,489.17 L778.9,489.52 L780.4,489.83 L781.9,490.10 L783.4,490.32 L784.9,490.49 L786.4,490.61 L787.9,490.68 L789.4,490.70 L790.9,490.67 L792.4,490.58 L793.9,490.45 L795.4,490.26 L796.9,490.03 L798.4,489.75 L799.9,489.43 L801.4,489.07 L802.9,488.67 L804.4,488.24 L805.9,487.78 L807.4,487.30 L808.9,486.80 L810.4,486.28 L811.9,485.76 L813.4,485.23 L814.9,484.70 L816.4,484.18 L816.4,526.9 L714.4,526.9 Z" fill="#fbbcb5"/><path d="M714.4,486.79 L715.9,487.18 L717.4,487.55 L718.9,487.91 L720.4,488.26 L721.9,488.58 L723.4,488.89 L724.9,489.18 L726.4,489.44 L727.9,489.68 L729.4,489.89 L730.9,490.08 L732.4,490.24 L733.9,490.37 L735.4,490.47 L736.9,490.54 L738.4,490.59 L739.9,490.60 L741.4,490.58 L742.9,490.54 L744.4,490.46 L745.9,490.35 L747.4,490.22 L748.9,490.06 L750.4,489.86 L751.9,489.65 L753.4,489.41 L754.9,489.14 L756.4,488.85 L757.9,488.54 L759.4,488.21 L760.9,487.87 L762.4,487.50 L763.9,487.13 L765.4,486.74 L766.9,486.34 L768.4,485.93 L769.9,485.51 L771.4,485.09 L772.9,484.67 L774.4,484.25 L775.9,483.83 L777.4,483.42 L778.9,483.01 L780.4,482.61 L781.9,482.22 L783.4,481.85 L784.9,481.49 L786.4,481.14 L787.9,480.82 L789.4,480.51 L790.9,480.22 L792.4,479.96 L793.9,479.72 L795.4,479.51 L796.9,479.32 L798.4,479.16 L799.9,479.03 L801.4,478.93 L802.9,478.86 L804.4,478.81 L805.9,478.80 L807.4,478.82 L808.9,478.86 L810.4,478.94 L811.9,479.05 L813.4,479.18 L814.9,479.34 L816.4,479.54 L816.4,526.9 L714.4,526.9 Z" fill="#f98477"/></g><circle cx="765.4" cy="475.9" r="48.4" fill="none" stroke="#ef7b70" stroke-width="1.4"/><g transform="translate(940.2 477.5) scale(1 1.025)"><circle cx="0" cy="0" r="47.1" fill="none" stroke="#ebebeb" stroke-width="15.8"/><circle cx="0" cy="0" r="47.1" fill="none" stroke="#3ba7ae" stroke-width="15.8" stroke-dasharray="191.47 295.94" transform="rotate(-90)"/></g><line x1="327.8" y1="539.5" x2="327.8" y2="570" stroke="#e6e6e6" stroke-width="0.8"/><line x1="504.5" y1="539.5" x2="504.5" y2="570" stroke="#e6e6e6" stroke-width="0.8"/><line x1="686.7" y1="539.5" x2="686.7" y2="570" stroke="#e6e6e6" stroke-width="0.8"/></svg>
<div class="t" style="left:675.9px;width:400px;text-align:center;top:133.9px;font-size:10.2px;line-height:12.24px;color:#444;font-weight:normal;-webkit-text-stroke:0.15px #444;">资产</div>
<div class="t" style="left:790.3px;width:400px;text-align:center;top:216.1px;font-size:10.2px;line-height:12.24px;color:#444;font-weight:normal;-webkit-text-stroke:0.15px #444;">安全</div>
<div class="t" style="left:758.5px;width:400px;text-align:center;top:345.8px;font-size:10.2px;line-height:12.24px;color:#444;font-weight:normal;-webkit-text-stroke:0.15px #444;">效益</div>
<div class="t" style="left:605.9px;width:400px;text-align:center;top:345.8px;font-size:10.2px;line-height:12.24px;color:#444;font-weight:normal;-webkit-text-stroke:0.15px #444;">效率</div>
<div class="t" style="left:559.7px;width:400px;text-align:center;top:216.8px;font-size:10.2px;line-height:12.24px;color:#444;font-weight:normal;-webkit-text-stroke:0.15px #444;">成本</div>
<div class="t" style="left:945.7px;top:130.1px;font-size:6.2px;line-height:7.44px;color:#444;font-weight:bold;">最佳</div>
<div class="t" style="left:984.2px;top:130.1px;font-size:6.2px;line-height:7.44px;color:#444;font-weight:bold;">最差</div>
<div class="t" style="left:1022.5px;top:130.1px;font-size:6.2px;line-height:7.44px;color:#444;font-weight:bold;">均值</div>
<div class="t" style="left:38.6px;width:400px;text-align:center;top:481.8px;font-size:18px;line-height:21.60px;color:#fff;font-weight:normal;-webkit-text-stroke:0.35px #fff;">4.6分</div>
<div class="t" style="left:38.4px;width:400px;text-align:center;top:504.5px;font-size:7.6px;line-height:9.12px;color:#fff;font-weight:bold;">成本与资产</div>
<div class="t" style="left:213.6px;width:400px;text-align:center;top:481.8px;font-size:18px;line-height:21.60px;color:#fff;font-weight:normal;-webkit-text-stroke:0.35px #fff;">4.8分</div>
<div class="t" style="left:213.4px;width:400px;text-align:center;top:504.5px;font-size:7.6px;line-height:9.12px;color:#fff;font-weight:bold;">成本与效益</div>
<div class="t" style="left:389.2px;width:400px;text-align:center;top:481.8px;font-size:18px;line-height:21.60px;color:#fff;font-weight:normal;-webkit-text-stroke:0.35px #fff;">6.7分</div>
<div class="t" style="left:389.0px;width:400px;text-align:center;top:504.5px;font-size:7.6px;line-height:9.12px;color:#fff;font-weight:bold;">成本与效率</div>
<div class="t" style="left:564.4px;width:400px;text-align:center;top:481.8px;font-size:18px;line-height:21.60px;color:#fff;font-weight:normal;-webkit-text-stroke:0.35px #fff;">1.4分</div>
<div class="t" style="left:564.2px;width:400px;text-align:center;top:504.5px;font-size:7.6px;line-height:9.12px;color:#fff;font-weight:bold;">成本与安全</div>
<div class="t" style="left:742.7px;width:400px;text-align:center;top:472.4px;font-size:18px;line-height:21.60px;color:#333;font-weight:normal;-webkit-text-stroke:0.25px #333;">6.7分</div>
<div class="t" style="left:740.5px;width:400px;text-align:center;top:547.8px;font-size:12.6px;line-height:15.12px;color:#555;font-weight:bold;">综合评分</div>
<div class="t" style="left:160.4px;top:541.5px;font-size:6.2px;line-height:7.44px;color:#333;font-weight:normal;-webkit-text-stroke:0.12px #333;">资产成新率</div>
<div class="t" style="left:160.4px;top:552.7px;font-size:6.2px;line-height:7.44px;color:#444;font-weight:normal;-webkit-text-stroke:0.1px #444;">指标值：<span style="font-size:6.9px">1233</span></div>
<div class="t" style="left:160.4px;top:563.9px;font-size:6.2px;line-height:7.44px;color:#444;font-weight:normal;-webkit-text-stroke:0.1px #444;">指标分：<span style="font-size:6.9px">5</span></div>
<div class="t" style="left:219.6px;top:541.5px;font-size:6.2px;line-height:7.44px;color:#333;font-weight:normal;-webkit-text-stroke:0.12px #333;">资产增长率</div>
<div class="t" style="left:219.6px;top:552.7px;font-size:6.2px;line-height:7.44px;color:#444;font-weight:normal;-webkit-text-stroke:0.1px #444;">指标值：<span style="font-size:6.9px">1233</span></div>
<div class="t" style="left:219.6px;top:563.9px;font-size:6.2px;line-height:7.44px;color:#444;font-weight:normal;-webkit-text-stroke:0.1px #444;">指标分：<span style="font-size:6.9px">5</span></div>
<div class="t" style="left:274.4px;top:541.5px;font-size:6.2px;line-height:7.44px;color:#333;font-weight:normal;-webkit-text-stroke:0.12px #333;">逾龄资产占比</div>
<div class="t" style="left:274.4px;top:552.7px;font-size:6.2px;line-height:7.44px;color:#444;font-weight:normal;-webkit-text-stroke:0.1px #444;">指标值：<span style="font-size:6.9px">1233</span></div>
<div class="t" style="left:274.4px;top:563.9px;font-size:6.2px;line-height:7.44px;color:#444;font-weight:normal;-webkit-text-stroke:0.1px #444;">指标分：<span style="font-size:6.9px">5</span></div>
<div class="t" style="left:337.3px;top:541.5px;font-size:6.2px;line-height:7.44px;color:#333;font-weight:normal;-webkit-text-stroke:0.12px #333;">售电量</div>
<div class="t" style="left:337.3px;top:552.7px;font-size:6.2px;line-height:7.44px;color:#444;font-weight:normal;-webkit-text-stroke:0.1px #444;">指标值：<span style="font-size:6.9px">1233</span></div>
<div class="t" style="left:337.3px;top:563.9px;font-size:6.2px;line-height:7.44px;color:#444;font-weight:normal;-webkit-text-stroke:0.1px #444;">指标分：<span style="font-size:6.9px">5</span></div>
<div class="t" style="left:397.4px;top:541.5px;font-size:6.2px;line-height:7.44px;color:#333;font-weight:normal;-webkit-text-stroke:0.12px #333;">线损率</div>
<div class="t" style="left:397.4px;top:552.7px;font-size:6.2px;line-height:7.44px;color:#444;font-weight:normal;-webkit-text-stroke:0.1px #444;">指标值：<span style="font-size:6.9px">1233</span></div>
<div class="t" style="left:397.4px;top:563.9px;font-size:6.2px;line-height:7.44px;color:#444;font-weight:normal;-webkit-text-stroke:0.1px #444;">指标分：<span style="font-size:6.9px">5</span></div>
<div class="t" style="left:452.2px;top:541.5px;font-size:6.2px;line-height:7.44px;color:#333;font-weight:normal;-webkit-text-stroke:0.12px #333;">容载比</div>
<div class="t" style="left:452.2px;top:552.7px;font-size:6.2px;line-height:7.44px;color:#444;font-weight:normal;-webkit-text-stroke:0.1px #444;">指标值：<span style="font-size:6.9px">1233</span></div>
<div class="t" style="left:452.2px;top:563.9px;font-size:6.2px;line-height:7.44px;color:#444;font-weight:normal;-webkit-text-stroke:0.1px #444;">指标分：<span style="font-size:6.9px">5</span></div>
<div class="t" style="left:516.3px;top:541.5px;font-size:6.2px;line-height:7.44px;color:#333;font-weight:normal;-webkit-text-stroke:0.12px #333;">单人运维资产量</div>
<div class="t" style="left:516.3px;top:552.7px;font-size:6.2px;line-height:7.44px;color:#444;font-weight:normal;-webkit-text-stroke:0.1px #444;">指标值：<span style="font-size:6.9px">1233</span></div>
<div class="t" style="left:516.3px;top:563.9px;font-size:6.2px;line-height:7.44px;color:#444;font-weight:normal;-webkit-text-stroke:0.1px #444;">指标分：<span style="font-size:6.9px">5</span></div>
<div class="t" style="left:570.5px;top:541.5px;font-size:6.2px;line-height:7.44px;color:#333;font-weight:normal;-webkit-text-stroke:0.12px #333;">单人运维线路长度</div>
<div class="t" style="left:570.5px;top:552.7px;font-size:6.2px;line-height:7.44px;color:#444;font-weight:normal;-webkit-text-stroke:0.1px #444;">指标值：<span style="font-size:6.9px">1233</span></div>
<div class="t" style="left:570.5px;top:563.9px;font-size:6.2px;line-height:7.44px;color:#444;font-weight:normal;-webkit-text-stroke:0.1px #444;">指标分：<span style="font-size:6.9px">5</span></div>
<div class="t" style="left:630.4px;top:541.5px;font-size:6.2px;line-height:7.44px;color:#333;font-weight:normal;-webkit-text-stroke:0.12px #333;">单人运维变电容量</div>
<div class="t" style="left:630.4px;top:552.7px;font-size:6.2px;line-height:7.44px;color:#444;font-weight:normal;-webkit-text-stroke:0.1px #444;">指标值：<span style="font-size:6.9px">1233</span></div>
<div class="t" style="left:630.4px;top:563.9px;font-size:6.2px;line-height:7.44px;color:#444;font-weight:normal;-webkit-text-stroke:0.1px #444;">指标分：<span style="font-size:6.9px">5</span></div>
<div class="t" style="left:696.1px;top:541.5px;font-size:6.2px;line-height:7.44px;color:#333;font-weight:normal;-webkit-text-stroke:0.12px #333;">供电可靠率</div>
<div class="t" style="left:696.1px;top:552.7px;font-size:6.2px;line-height:7.44px;color:#444;font-weight:normal;-webkit-text-stroke:0.1px #444;">指标值：<span style="font-size:6.9px">1233</span></div>
<div class="t" style="left:696.1px;top:563.9px;font-size:6.2px;line-height:7.44px;color:#444;font-weight:normal;-webkit-text-stroke:0.1px #444;">指标分：<span style="font-size:6.9px">5</span></div>
<div class="t" style="left:755.4px;top:541.5px;font-size:6.2px;line-height:7.44px;color:#333;font-weight:normal;-webkit-text-stroke:0.12px #333;">可用系数</div>
<div class="t" style="left:755.4px;top:552.7px;font-size:6.2px;line-height:7.44px;color:#444;font-weight:normal;-webkit-text-stroke:0.1px #444;">指标值：<span style="font-size:6.9px">1233</span></div>
<div class="t" style="left:755.4px;top:563.9px;font-size:6.2px;line-height:7.44px;color:#444;font-weight:normal;-webkit-text-stroke:0.1px #444;">指标分：<span style="font-size:6.9px">5</span></div>
<div class="t" style="left:811.1px;top:541.5px;font-size:6.2px;line-height:7.44px;color:#333;font-weight:normal;-webkit-text-stroke:0.12px #333;">缺陷率</div>
<div class="t" style="left:811.1px;top:552.7px;font-size:6.2px;line-height:7.44px;color:#444;font-weight:normal;-webkit-text-stroke:0.1px #444;">指标值：<span style="font-size:6.9px">1233</span></div>
<div class="t" style="left:811.1px;top:563.9px;font-size:6.2px;line-height:7.44px;color:#444;font-weight:normal;-webkit-text-stroke:0.1px #444;">指标分：<span style="font-size:6.9px">5</span></div>
<div class="t" style="left:940.3px;top:389.4px;font-size:7.7px;line-height:9.24px;color:#666;font-weight:normal;">运维单位</div>
<div class="a" style="left:974.6px;top:385.7px;width:60.6px;height:12.9px;border:0.8px solid #ececec;border-radius:2px;box-sizing:border-box"></div>
<div class="t" style="left:985.2px;top:389.4px;font-size:7.7px;line-height:9.24px;color:#555;font-weight:normal;">南京</div>
<svg class="a" style="left:1024px;top:390.5px" width="6" height="4" viewBox="0 0 6 4"><path d="M0.5 0.5 L5.5 0.5 L3 3.2Z" fill="#999"/></svg>
</body></html>
